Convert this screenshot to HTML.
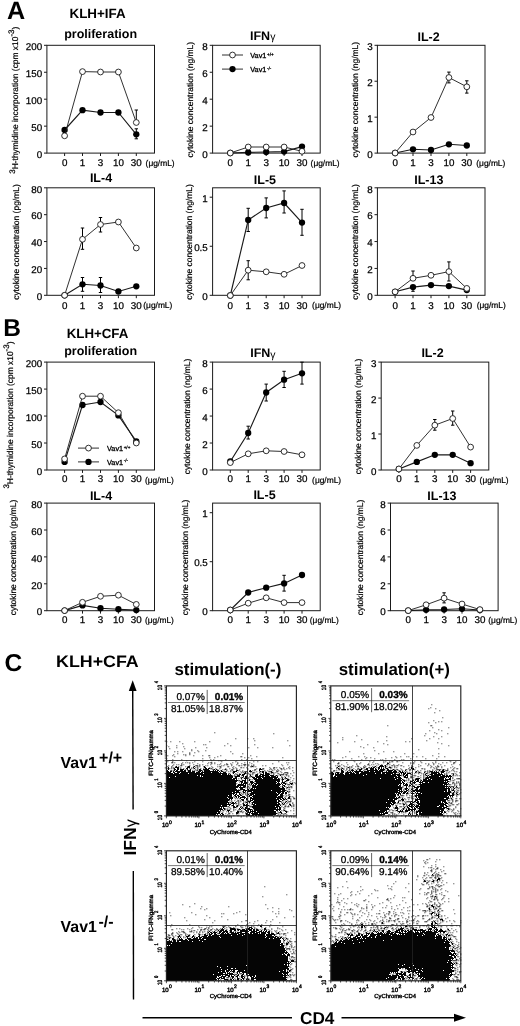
<!DOCTYPE html>
<html lang="en"><head><meta charset="utf-8"><title>Figure</title>
<style>html,body{margin:0;padding:0;background:#fff}svg{display:block}</style></head>
<body>
<svg width="520" height="1026" viewBox="0 0 520 1026" font-family="'Liberation Sans', Arial, Helvetica, sans-serif" fill="#000" text-rendering="geometricPrecision">
<rect width="520" height="1026" fill="#fff"/>
<text x="7" y="19.3" font-size="25.2" text-anchor="start" font-weight="bold" >A</text>
<text x="97.6" y="18.1" font-size="13.4" text-anchor="middle" font-weight="bold" >KLH+IFA</text>
<rect x="46.9" y="45.3" width="107.6" height="107.8" fill="none" stroke="#1a1a1a" stroke-width="1"/>
<line x1="44" y1="153.1" x2="46.9" y2="153.1" stroke="#1a1a1a" stroke-width="1" />
<text transform="translate(42.1 157.8) scale(1 1.0)" font-size="9.8" text-anchor="end" stroke="#000" stroke-width="0.25">0</text>
<line x1="44" y1="126.15" x2="46.9" y2="126.15" stroke="#1a1a1a" stroke-width="1" />
<text transform="translate(42.1 130.85) scale(1 1.0)" font-size="9.8" text-anchor="end" stroke="#000" stroke-width="0.25">50</text>
<line x1="44" y1="99.2" x2="46.9" y2="99.2" stroke="#1a1a1a" stroke-width="1" />
<text transform="translate(42.1 103.9) scale(1 1.0)" font-size="9.8" text-anchor="end" stroke="#000" stroke-width="0.25">100</text>
<line x1="44" y1="72.25" x2="46.9" y2="72.25" stroke="#1a1a1a" stroke-width="1" />
<text transform="translate(42.1 76.95) scale(1 1.0)" font-size="9.8" text-anchor="end" stroke="#000" stroke-width="0.25">150</text>
<line x1="44" y1="45.3" x2="46.9" y2="45.3" stroke="#1a1a1a" stroke-width="1" />
<text transform="translate(42.1 50) scale(1 1.0)" font-size="9.8" text-anchor="end" stroke="#000" stroke-width="0.25">200</text>
<line x1="64.6" y1="153.1" x2="64.6" y2="156" stroke="#1a1a1a" stroke-width="1" />
<text transform="translate(64.6 166.4) scale(1 1.0)" font-size="9.8" text-anchor="middle" stroke="#000" stroke-width="0.25">0</text>
<line x1="82.5" y1="153.1" x2="82.5" y2="156" stroke="#1a1a1a" stroke-width="1" />
<text transform="translate(82.5 166.4) scale(1 1.0)" font-size="9.8" text-anchor="middle" stroke="#000" stroke-width="0.25">1</text>
<line x1="100.5" y1="153.1" x2="100.5" y2="156" stroke="#1a1a1a" stroke-width="1" />
<text transform="translate(100.5 166.4) scale(1 1.0)" font-size="9.8" text-anchor="middle" stroke="#000" stroke-width="0.25">3</text>
<line x1="118.4" y1="153.1" x2="118.4" y2="156" stroke="#1a1a1a" stroke-width="1" />
<text transform="translate(118.4 166.4) scale(1 1.0)" font-size="9.8" text-anchor="middle" stroke="#000" stroke-width="0.25">10</text>
<line x1="136.3" y1="153.1" x2="136.3" y2="156" stroke="#1a1a1a" stroke-width="1" />
<text transform="translate(136.3 166.4) scale(1 1.0)" font-size="9.8" text-anchor="middle" stroke="#000" stroke-width="0.25">30</text>
<text x="145.6" y="166.1" font-size="8.4" text-anchor="start" font-weight="normal"  stroke="#000" stroke-width="0.22">(μg/mL)</text>
<text x="100.6" y="38.2" font-size="12.5" text-anchor="middle" font-weight="bold" >proliferation</text>
<text transform="translate(18.4 100.2) rotate(-90)" font-size="8.42" text-anchor="middle" stroke="#000" stroke-width="0.2"><tspan dy="-3.8" font-size="8">3</tspan><tspan dy="3.8">H-thymidine incorporation (cpm x10</tspan><tspan dy="-4.2" font-size="8">-3</tspan><tspan dy="4.2">)</tspan></text>
<line x1="136.3" y1="128.8" x2="136.3" y2="138.8" stroke="#000" stroke-width="1" />
<line x1="134.6" y1="128.8" x2="138" y2="128.8" stroke="#000" stroke-width="1" />
<line x1="134.6" y1="138.8" x2="138" y2="138.8" stroke="#000" stroke-width="1" />
<polyline fill="none" stroke="#1a1a1a" stroke-width="1.15" points="64.6,130 82.5,110.2 100.5,112.5 118.4,112.5 136.3,134.3"/>
<circle cx="64.6" cy="130" r="3.15" fill="#000"/>
<circle cx="82.5" cy="110.2" r="3.15" fill="#000"/>
<circle cx="100.5" cy="112.5" r="3.15" fill="#000"/>
<circle cx="118.4" cy="112.5" r="3.15" fill="#000"/>
<circle cx="136.3" cy="134.3" r="3.15" fill="#000"/>
<line x1="136.3" y1="110" x2="136.3" y2="122.5" stroke="#000" stroke-width="1" />
<line x1="134.6" y1="110" x2="138" y2="110" stroke="#000" stroke-width="1" />
<line x1="134.6" y1="122.5" x2="138" y2="122.5" stroke="#000" stroke-width="1" />
<polyline fill="none" stroke="#1a1a1a" stroke-width="0.9" points="64.6,135.8 82.5,71.6 100.5,72 118.4,72 136.3,122.5"/>
<circle cx="64.6" cy="135.8" r="2.9" fill="#fff" stroke="#1a1a1a" stroke-width="0.9"/>
<circle cx="82.5" cy="71.6" r="2.9" fill="#fff" stroke="#1a1a1a" stroke-width="0.9"/>
<circle cx="100.5" cy="72" r="2.9" fill="#fff" stroke="#1a1a1a" stroke-width="0.9"/>
<circle cx="118.4" cy="72" r="2.9" fill="#fff" stroke="#1a1a1a" stroke-width="0.9"/>
<circle cx="136.3" cy="122.5" r="2.9" fill="#fff" stroke="#1a1a1a" stroke-width="0.9"/>
<rect x="212.6" y="45.3" width="107.6" height="107.8" fill="none" stroke="#1a1a1a" stroke-width="1"/>
<line x1="209.7" y1="153.1" x2="212.6" y2="153.1" stroke="#1a1a1a" stroke-width="1" />
<text transform="translate(207.8 157.8) scale(1 1.0)" font-size="9.8" text-anchor="end" stroke="#000" stroke-width="0.25">0</text>
<line x1="209.7" y1="126.15" x2="212.6" y2="126.15" stroke="#1a1a1a" stroke-width="1" />
<text transform="translate(207.8 130.85) scale(1 1.0)" font-size="9.8" text-anchor="end" stroke="#000" stroke-width="0.25">2</text>
<line x1="209.7" y1="99.2" x2="212.6" y2="99.2" stroke="#1a1a1a" stroke-width="1" />
<text transform="translate(207.8 103.9) scale(1 1.0)" font-size="9.8" text-anchor="end" stroke="#000" stroke-width="0.25">4</text>
<line x1="209.7" y1="72.25" x2="212.6" y2="72.25" stroke="#1a1a1a" stroke-width="1" />
<text transform="translate(207.8 76.95) scale(1 1.0)" font-size="9.8" text-anchor="end" stroke="#000" stroke-width="0.25">6</text>
<line x1="209.7" y1="45.3" x2="212.6" y2="45.3" stroke="#1a1a1a" stroke-width="1" />
<text transform="translate(207.8 50) scale(1 1.0)" font-size="9.8" text-anchor="end" stroke="#000" stroke-width="0.25">8</text>
<line x1="230.3" y1="153.1" x2="230.3" y2="156" stroke="#1a1a1a" stroke-width="1" />
<text transform="translate(230.3 166.4) scale(1 1.0)" font-size="9.8" text-anchor="middle" stroke="#000" stroke-width="0.25">0</text>
<line x1="248.2" y1="153.1" x2="248.2" y2="156" stroke="#1a1a1a" stroke-width="1" />
<text transform="translate(248.2 166.4) scale(1 1.0)" font-size="9.8" text-anchor="middle" stroke="#000" stroke-width="0.25">1</text>
<line x1="266.2" y1="153.1" x2="266.2" y2="156" stroke="#1a1a1a" stroke-width="1" />
<text transform="translate(266.2 166.4) scale(1 1.0)" font-size="9.8" text-anchor="middle" stroke="#000" stroke-width="0.25">3</text>
<line x1="284.1" y1="153.1" x2="284.1" y2="156" stroke="#1a1a1a" stroke-width="1" />
<text transform="translate(284.1 166.4) scale(1 1.0)" font-size="9.8" text-anchor="middle" stroke="#000" stroke-width="0.25">10</text>
<line x1="302" y1="153.1" x2="302" y2="156" stroke="#1a1a1a" stroke-width="1" />
<text transform="translate(302 166.4) scale(1 1.0)" font-size="9.8" text-anchor="middle" stroke="#000" stroke-width="0.25">30</text>
<text x="310.6" y="166.1" font-size="8.4" text-anchor="start" font-weight="normal"  stroke="#000" stroke-width="0.22">(μg/mL)</text>
<text x="250" y="39.6" font-size="12.5" text-anchor="start" font-weight="bold" >IFN<tspan font-weight="normal" font-size="10.5" dy="0.8">γ</tspan></text>
<text transform="translate(193.4 99.7) rotate(-90)" font-size="8.46" text-anchor="middle" stroke="#000" stroke-width="0.2">cytokine concentration (ng/mL)</text>
<polyline fill="none" stroke="#1a1a1a" stroke-width="1.15" points="230.3,153 248.2,152.4 266.2,152 284.1,151.6 302,146.6"/>
<circle cx="230.3" cy="153" r="3.15" fill="#000"/>
<circle cx="248.2" cy="152.4" r="3.15" fill="#000"/>
<circle cx="266.2" cy="152" r="3.15" fill="#000"/>
<circle cx="284.1" cy="151.6" r="3.15" fill="#000"/>
<circle cx="302" cy="146.6" r="3.15" fill="#000"/>
<polyline fill="none" stroke="#1a1a1a" stroke-width="0.9" points="230.3,153 248.2,147 266.2,147 284.1,147 302,151.3"/>
<circle cx="230.3" cy="153" r="2.9" fill="#fff" stroke="#1a1a1a" stroke-width="0.9"/>
<circle cx="248.2" cy="147" r="2.9" fill="#fff" stroke="#1a1a1a" stroke-width="0.9"/>
<circle cx="266.2" cy="147" r="2.9" fill="#fff" stroke="#1a1a1a" stroke-width="0.9"/>
<circle cx="284.1" cy="147" r="2.9" fill="#fff" stroke="#1a1a1a" stroke-width="0.9"/>
<circle cx="302" cy="151.3" r="2.9" fill="#fff" stroke="#1a1a1a" stroke-width="0.9"/>
<line x1="222" y1="55" x2="243" y2="55" stroke="#1a1a1a" stroke-width="0.9" />
<circle cx="232.5" cy="55" r="2.9" fill="#fff" stroke="#1a1a1a" stroke-width="0.9"/>
<text x="250.3" y="57.9" font-size="7.3" stroke="#000" stroke-width="0.3">Vav1<tspan dx="0.6" dy="-2.4" font-size="4.6">+/+</tspan></text>
<line x1="222" y1="69.1" x2="243" y2="69.1" stroke="#1a1a1a" stroke-width="0.9" />
<circle cx="232.5" cy="69.1" r="3.15" fill="#000"/>
<text x="250.3" y="72" font-size="7.3" stroke="#000" stroke-width="0.3">Vav1<tspan dx="0.6" dy="-2.4" font-size="4.6">-/-</tspan></text>
<rect x="377.4" y="45.3" width="107.6" height="107.8" fill="none" stroke="#1a1a1a" stroke-width="1"/>
<line x1="374.5" y1="153.1" x2="377.4" y2="153.1" stroke="#1a1a1a" stroke-width="1" />
<text transform="translate(372.6 157.8) scale(1 1.0)" font-size="9.8" text-anchor="end" stroke="#000" stroke-width="0.25">0</text>
<line x1="374.5" y1="117.17" x2="377.4" y2="117.17" stroke="#1a1a1a" stroke-width="1" />
<text transform="translate(372.6 121.87) scale(1 1.0)" font-size="9.8" text-anchor="end" stroke="#000" stroke-width="0.25">1</text>
<line x1="374.5" y1="81.23" x2="377.4" y2="81.23" stroke="#1a1a1a" stroke-width="1" />
<text transform="translate(372.6 85.93) scale(1 1.0)" font-size="9.8" text-anchor="end" stroke="#000" stroke-width="0.25">2</text>
<line x1="374.5" y1="45.3" x2="377.4" y2="45.3" stroke="#1a1a1a" stroke-width="1" />
<text transform="translate(372.6 50) scale(1 1.0)" font-size="9.8" text-anchor="end" stroke="#000" stroke-width="0.25">3</text>
<line x1="395.1" y1="153.1" x2="395.1" y2="156" stroke="#1a1a1a" stroke-width="1" />
<text transform="translate(395.1 166.4) scale(1 1.0)" font-size="9.8" text-anchor="middle" stroke="#000" stroke-width="0.25">0</text>
<line x1="413" y1="153.1" x2="413" y2="156" stroke="#1a1a1a" stroke-width="1" />
<text transform="translate(413 166.4) scale(1 1.0)" font-size="9.8" text-anchor="middle" stroke="#000" stroke-width="0.25">1</text>
<line x1="431" y1="153.1" x2="431" y2="156" stroke="#1a1a1a" stroke-width="1" />
<text transform="translate(431 166.4) scale(1 1.0)" font-size="9.8" text-anchor="middle" stroke="#000" stroke-width="0.25">3</text>
<line x1="448.9" y1="153.1" x2="448.9" y2="156" stroke="#1a1a1a" stroke-width="1" />
<text transform="translate(448.9 166.4) scale(1 1.0)" font-size="9.8" text-anchor="middle" stroke="#000" stroke-width="0.25">10</text>
<line x1="466.8" y1="153.1" x2="466.8" y2="156" stroke="#1a1a1a" stroke-width="1" />
<text transform="translate(466.8 166.4) scale(1 1.0)" font-size="9.8" text-anchor="middle" stroke="#000" stroke-width="0.25">30</text>
<text x="476.3" y="166.1" font-size="8.4" text-anchor="start" font-weight="normal"  stroke="#000" stroke-width="0.22">(μg/mL)</text>
<text x="428.6" y="41.3" font-size="12.5" text-anchor="middle" font-weight="bold" >IL-2</text>
<text transform="translate(357.8 99.7) rotate(-90)" font-size="8.46" text-anchor="middle" stroke="#000" stroke-width="0.2">cytokine concentration (ng/mL)</text>
<polyline fill="none" stroke="#1a1a1a" stroke-width="1.15" points="395.1,153 413,149.3 431,150 448.9,144.3 466.8,145.5"/>
<circle cx="395.1" cy="153" r="3.15" fill="#000"/>
<circle cx="413" cy="149.3" r="3.15" fill="#000"/>
<circle cx="431" cy="150" r="3.15" fill="#000"/>
<circle cx="448.9" cy="144.3" r="3.15" fill="#000"/>
<circle cx="466.8" cy="145.5" r="3.15" fill="#000"/>
<line x1="448.9" y1="72.1" x2="448.9" y2="82.9" stroke="#000" stroke-width="1" />
<line x1="447.2" y1="72.1" x2="450.6" y2="72.1" stroke="#000" stroke-width="1" />
<line x1="447.2" y1="82.9" x2="450.6" y2="82.9" stroke="#000" stroke-width="1" />
<line x1="466.8" y1="80.8" x2="466.8" y2="93.1" stroke="#000" stroke-width="1" />
<line x1="465.1" y1="80.8" x2="468.5" y2="80.8" stroke="#000" stroke-width="1" />
<line x1="465.1" y1="93.1" x2="468.5" y2="93.1" stroke="#000" stroke-width="1" />
<polyline fill="none" stroke="#1a1a1a" stroke-width="0.9" points="395.1,153 413,132 431,117.5 448.9,77.5 466.8,86.8"/>
<circle cx="395.1" cy="153" r="2.9" fill="#fff" stroke="#1a1a1a" stroke-width="0.9"/>
<circle cx="413" cy="132" r="2.9" fill="#fff" stroke="#1a1a1a" stroke-width="0.9"/>
<circle cx="431" cy="117.5" r="2.9" fill="#fff" stroke="#1a1a1a" stroke-width="0.9"/>
<circle cx="448.9" cy="77.5" r="2.9" fill="#fff" stroke="#1a1a1a" stroke-width="0.9"/>
<circle cx="466.8" cy="86.8" r="2.9" fill="#fff" stroke="#1a1a1a" stroke-width="0.9"/>
<rect x="46.9" y="187.8" width="107.6" height="107.5" fill="none" stroke="#1a1a1a" stroke-width="1"/>
<line x1="44" y1="295.3" x2="46.9" y2="295.3" stroke="#1a1a1a" stroke-width="1" />
<text transform="translate(42.1 300) scale(1 1.0)" font-size="9.8" text-anchor="end" stroke="#000" stroke-width="0.25">0</text>
<line x1="44" y1="268.43" x2="46.9" y2="268.43" stroke="#1a1a1a" stroke-width="1" />
<text transform="translate(42.1 273.12) scale(1 1.0)" font-size="9.8" text-anchor="end" stroke="#000" stroke-width="0.25">20</text>
<line x1="44" y1="241.55" x2="46.9" y2="241.55" stroke="#1a1a1a" stroke-width="1" />
<text transform="translate(42.1 246.25) scale(1 1.0)" font-size="9.8" text-anchor="end" stroke="#000" stroke-width="0.25">40</text>
<line x1="44" y1="214.68" x2="46.9" y2="214.68" stroke="#1a1a1a" stroke-width="1" />
<text transform="translate(42.1 219.38) scale(1 1.0)" font-size="9.8" text-anchor="end" stroke="#000" stroke-width="0.25">60</text>
<line x1="44" y1="187.8" x2="46.9" y2="187.8" stroke="#1a1a1a" stroke-width="1" />
<text transform="translate(42.1 192.5) scale(1 1.0)" font-size="9.8" text-anchor="end" stroke="#000" stroke-width="0.25">80</text>
<line x1="64.6" y1="295.3" x2="64.6" y2="298.2" stroke="#1a1a1a" stroke-width="1" />
<text transform="translate(64.6 308.6) scale(1 1.0)" font-size="9.8" text-anchor="middle" stroke="#000" stroke-width="0.25">0</text>
<line x1="82.5" y1="295.3" x2="82.5" y2="298.2" stroke="#1a1a1a" stroke-width="1" />
<text transform="translate(82.5 308.6) scale(1 1.0)" font-size="9.8" text-anchor="middle" stroke="#000" stroke-width="0.25">1</text>
<line x1="100.5" y1="295.3" x2="100.5" y2="298.2" stroke="#1a1a1a" stroke-width="1" />
<text transform="translate(100.5 308.6) scale(1 1.0)" font-size="9.8" text-anchor="middle" stroke="#000" stroke-width="0.25">3</text>
<line x1="118.4" y1="295.3" x2="118.4" y2="298.2" stroke="#1a1a1a" stroke-width="1" />
<text transform="translate(118.4 308.6) scale(1 1.0)" font-size="9.8" text-anchor="middle" stroke="#000" stroke-width="0.25">10</text>
<line x1="136.3" y1="295.3" x2="136.3" y2="298.2" stroke="#1a1a1a" stroke-width="1" />
<text transform="translate(136.3 308.6) scale(1 1.0)" font-size="9.8" text-anchor="middle" stroke="#000" stroke-width="0.25">30</text>
<text x="143.3" y="308.3" font-size="8.4" text-anchor="start" font-weight="normal"  stroke="#000" stroke-width="0.22">(μg/mL)</text>
<text x="101" y="182.1" font-size="12.5" text-anchor="middle" font-weight="bold" >IL-4</text>
<text transform="translate(18.7 242.05) rotate(-90)" font-size="8.46" text-anchor="middle" stroke="#000" stroke-width="0.2">cytokine concentration (pg/mL)</text>
<line x1="82.5" y1="277.5" x2="82.5" y2="291.3" stroke="#000" stroke-width="1" />
<line x1="80.8" y1="277.5" x2="84.2" y2="277.5" stroke="#000" stroke-width="1" />
<line x1="80.8" y1="291.3" x2="84.2" y2="291.3" stroke="#000" stroke-width="1" />
<line x1="100.5" y1="277.5" x2="100.5" y2="292.5" stroke="#000" stroke-width="1" />
<line x1="98.8" y1="277.5" x2="102.2" y2="277.5" stroke="#000" stroke-width="1" />
<line x1="98.8" y1="292.5" x2="102.2" y2="292.5" stroke="#000" stroke-width="1" />
<polyline fill="none" stroke="#1a1a1a" stroke-width="1.15" points="64.6,295.3 82.5,284.3 100.5,285.5 118.4,291.5 136.3,286.3"/>
<circle cx="64.6" cy="295.3" r="3.15" fill="#000"/>
<circle cx="82.5" cy="284.3" r="3.15" fill="#000"/>
<circle cx="100.5" cy="285.5" r="3.15" fill="#000"/>
<circle cx="118.4" cy="291.5" r="3.15" fill="#000"/>
<circle cx="136.3" cy="286.3" r="3.15" fill="#000"/>
<line x1="82.5" y1="228" x2="82.5" y2="249.3" stroke="#000" stroke-width="1" />
<line x1="80.8" y1="228" x2="84.2" y2="228" stroke="#000" stroke-width="1" />
<line x1="80.8" y1="249.3" x2="84.2" y2="249.3" stroke="#000" stroke-width="1" />
<line x1="100.5" y1="217.5" x2="100.5" y2="232" stroke="#000" stroke-width="1" />
<line x1="98.8" y1="217.5" x2="102.2" y2="217.5" stroke="#000" stroke-width="1" />
<line x1="98.8" y1="232" x2="102.2" y2="232" stroke="#000" stroke-width="1" />
<polyline fill="none" stroke="#1a1a1a" stroke-width="0.9" points="64.6,295.3 82.5,239.3 100.5,224.5 118.4,222 136.3,248"/>
<circle cx="64.6" cy="295.3" r="2.9" fill="#fff" stroke="#1a1a1a" stroke-width="0.9"/>
<circle cx="82.5" cy="239.3" r="2.9" fill="#fff" stroke="#1a1a1a" stroke-width="0.9"/>
<circle cx="100.5" cy="224.5" r="2.9" fill="#fff" stroke="#1a1a1a" stroke-width="0.9"/>
<circle cx="118.4" cy="222" r="2.9" fill="#fff" stroke="#1a1a1a" stroke-width="0.9"/>
<circle cx="136.3" cy="248" r="2.9" fill="#fff" stroke="#1a1a1a" stroke-width="0.9"/>
<rect x="212.6" y="187.8" width="107.6" height="107.5" fill="none" stroke="#1a1a1a" stroke-width="1"/>
<line x1="209.7" y1="295.3" x2="212.6" y2="295.3" stroke="#1a1a1a" stroke-width="1" />
<text transform="translate(207.8 300) scale(1 1.0)" font-size="9.8" text-anchor="end" stroke="#000" stroke-width="0.25">0</text>
<line x1="209.7" y1="246.25" x2="212.6" y2="246.25" stroke="#1a1a1a" stroke-width="1" />
<text transform="translate(207.8 250.95) scale(1 1.0)" font-size="9.8" text-anchor="end" stroke="#000" stroke-width="0.25">0.5</text>
<line x1="209.7" y1="197.2" x2="212.6" y2="197.2" stroke="#1a1a1a" stroke-width="1" />
<text transform="translate(207.8 201.9) scale(1 1.0)" font-size="9.8" text-anchor="end" stroke="#000" stroke-width="0.25">1</text>
<line x1="230.3" y1="295.3" x2="230.3" y2="298.2" stroke="#1a1a1a" stroke-width="1" />
<text transform="translate(230.3 308.6) scale(1 1.0)" font-size="9.8" text-anchor="middle" stroke="#000" stroke-width="0.25">0</text>
<line x1="248.2" y1="295.3" x2="248.2" y2="298.2" stroke="#1a1a1a" stroke-width="1" />
<text transform="translate(248.2 308.6) scale(1 1.0)" font-size="9.8" text-anchor="middle" stroke="#000" stroke-width="0.25">1</text>
<line x1="266.2" y1="295.3" x2="266.2" y2="298.2" stroke="#1a1a1a" stroke-width="1" />
<text transform="translate(266.2 308.6) scale(1 1.0)" font-size="9.8" text-anchor="middle" stroke="#000" stroke-width="0.25">3</text>
<line x1="284.1" y1="295.3" x2="284.1" y2="298.2" stroke="#1a1a1a" stroke-width="1" />
<text transform="translate(284.1 308.6) scale(1 1.0)" font-size="9.8" text-anchor="middle" stroke="#000" stroke-width="0.25">10</text>
<line x1="302" y1="295.3" x2="302" y2="298.2" stroke="#1a1a1a" stroke-width="1" />
<text transform="translate(302 308.6) scale(1 1.0)" font-size="9.8" text-anchor="middle" stroke="#000" stroke-width="0.25">30</text>
<text x="312.1" y="308.3" font-size="8.4" text-anchor="start" font-weight="normal"  stroke="#000" stroke-width="0.22">(μg/mL)</text>
<text x="264.9" y="183.7" font-size="12.5" text-anchor="middle" font-weight="bold" >IL-5</text>
<text transform="translate(191.5 242.05) rotate(-90)" font-size="8.46" text-anchor="middle" stroke="#000" stroke-width="0.2">cytokine concentration (ng/mL)</text>
<line x1="248.2" y1="208.3" x2="248.2" y2="231.5" stroke="#000" stroke-width="1" />
<line x1="246.5" y1="208.3" x2="249.9" y2="208.3" stroke="#000" stroke-width="1" />
<line x1="246.5" y1="231.5" x2="249.9" y2="231.5" stroke="#000" stroke-width="1" />
<line x1="266.2" y1="197.9" x2="266.2" y2="217.9" stroke="#000" stroke-width="1" />
<line x1="264.5" y1="197.9" x2="267.9" y2="197.9" stroke="#000" stroke-width="1" />
<line x1="264.5" y1="217.9" x2="267.9" y2="217.9" stroke="#000" stroke-width="1" />
<line x1="284.1" y1="190.9" x2="284.1" y2="213" stroke="#000" stroke-width="1" />
<line x1="282.4" y1="190.9" x2="285.8" y2="190.9" stroke="#000" stroke-width="1" />
<line x1="282.4" y1="213" x2="285.8" y2="213" stroke="#000" stroke-width="1" />
<line x1="302" y1="209.3" x2="302" y2="235.3" stroke="#000" stroke-width="1" />
<line x1="300.3" y1="209.3" x2="303.7" y2="209.3" stroke="#000" stroke-width="1" />
<line x1="300.3" y1="235.3" x2="303.7" y2="235.3" stroke="#000" stroke-width="1" />
<polyline fill="none" stroke="#1a1a1a" stroke-width="1.15" points="230.3,295.5 248.2,220 266.2,208 284.1,203 302,222.6"/>
<circle cx="230.3" cy="295.5" r="3.15" fill="#000"/>
<circle cx="248.2" cy="220" r="3.15" fill="#000"/>
<circle cx="266.2" cy="208" r="3.15" fill="#000"/>
<circle cx="284.1" cy="203" r="3.15" fill="#000"/>
<circle cx="302" cy="222.6" r="3.15" fill="#000"/>
<line x1="248.2" y1="260.7" x2="248.2" y2="279.8" stroke="#000" stroke-width="1" />
<line x1="246.5" y1="260.7" x2="249.9" y2="260.7" stroke="#000" stroke-width="1" />
<line x1="246.5" y1="279.8" x2="249.9" y2="279.8" stroke="#000" stroke-width="1" />
<polyline fill="none" stroke="#1a1a1a" stroke-width="0.9" points="230.3,295.5 248.2,270.2 266.2,271.8 284.1,274.3 302,265.5"/>
<circle cx="230.3" cy="295.5" r="2.9" fill="#fff" stroke="#1a1a1a" stroke-width="0.9"/>
<circle cx="248.2" cy="270.2" r="2.9" fill="#fff" stroke="#1a1a1a" stroke-width="0.9"/>
<circle cx="266.2" cy="271.8" r="2.9" fill="#fff" stroke="#1a1a1a" stroke-width="0.9"/>
<circle cx="284.1" cy="274.3" r="2.9" fill="#fff" stroke="#1a1a1a" stroke-width="0.9"/>
<circle cx="302" cy="265.5" r="2.9" fill="#fff" stroke="#1a1a1a" stroke-width="0.9"/>
<rect x="377.4" y="187.8" width="107.6" height="107.5" fill="none" stroke="#1a1a1a" stroke-width="1"/>
<line x1="374.5" y1="295.3" x2="377.4" y2="295.3" stroke="#1a1a1a" stroke-width="1" />
<text transform="translate(372.6 300) scale(1 1.0)" font-size="9.8" text-anchor="end" stroke="#000" stroke-width="0.25">0</text>
<line x1="374.5" y1="268.43" x2="377.4" y2="268.43" stroke="#1a1a1a" stroke-width="1" />
<text transform="translate(372.6 273.12) scale(1 1.0)" font-size="9.8" text-anchor="end" stroke="#000" stroke-width="0.25">2</text>
<line x1="374.5" y1="241.55" x2="377.4" y2="241.55" stroke="#1a1a1a" stroke-width="1" />
<text transform="translate(372.6 246.25) scale(1 1.0)" font-size="9.8" text-anchor="end" stroke="#000" stroke-width="0.25">4</text>
<line x1="374.5" y1="214.68" x2="377.4" y2="214.68" stroke="#1a1a1a" stroke-width="1" />
<text transform="translate(372.6 219.38) scale(1 1.0)" font-size="9.8" text-anchor="end" stroke="#000" stroke-width="0.25">6</text>
<line x1="374.5" y1="187.8" x2="377.4" y2="187.8" stroke="#1a1a1a" stroke-width="1" />
<text transform="translate(372.6 192.5) scale(1 1.0)" font-size="9.8" text-anchor="end" stroke="#000" stroke-width="0.25">8</text>
<line x1="395.1" y1="295.3" x2="395.1" y2="298.2" stroke="#1a1a1a" stroke-width="1" />
<text transform="translate(395.1 308.6) scale(1 1.0)" font-size="9.8" text-anchor="middle" stroke="#000" stroke-width="0.25">0</text>
<line x1="413" y1="295.3" x2="413" y2="298.2" stroke="#1a1a1a" stroke-width="1" />
<text transform="translate(413 308.6) scale(1 1.0)" font-size="9.8" text-anchor="middle" stroke="#000" stroke-width="0.25">1</text>
<line x1="431" y1="295.3" x2="431" y2="298.2" stroke="#1a1a1a" stroke-width="1" />
<text transform="translate(431 308.6) scale(1 1.0)" font-size="9.8" text-anchor="middle" stroke="#000" stroke-width="0.25">3</text>
<line x1="448.9" y1="295.3" x2="448.9" y2="298.2" stroke="#1a1a1a" stroke-width="1" />
<text transform="translate(448.9 308.6) scale(1 1.0)" font-size="9.8" text-anchor="middle" stroke="#000" stroke-width="0.25">10</text>
<line x1="466.8" y1="295.3" x2="466.8" y2="298.2" stroke="#1a1a1a" stroke-width="1" />
<text transform="translate(466.8 308.6) scale(1 1.0)" font-size="9.8" text-anchor="middle" stroke="#000" stroke-width="0.25">30</text>
<text x="476.7" y="308.3" font-size="8.4" text-anchor="start" font-weight="normal"  stroke="#000" stroke-width="0.22">(μg/mL)</text>
<text x="428.85" y="184" font-size="12.5" text-anchor="middle" font-weight="bold" >IL-13</text>
<text transform="translate(357.9 242.05) rotate(-90)" font-size="8.46" text-anchor="middle" stroke="#000" stroke-width="0.2">cytokine concentration (ng/mL)</text>
<line x1="413" y1="287.1" x2="413" y2="291.3" stroke="#000" stroke-width="1" />
<line x1="411.3" y1="287.1" x2="414.7" y2="287.1" stroke="#000" stroke-width="1" />
<line x1="411.3" y1="291.3" x2="414.7" y2="291.3" stroke="#000" stroke-width="1" />
<polyline fill="none" stroke="#1a1a1a" stroke-width="1.15" points="395.1,291.8 413,287.1 431,285.1 448.9,286.1 466.8,290.1"/>
<circle cx="395.1" cy="291.8" r="3.15" fill="#000"/>
<circle cx="413" cy="287.1" r="3.15" fill="#000"/>
<circle cx="431" cy="285.1" r="3.15" fill="#000"/>
<circle cx="448.9" cy="286.1" r="3.15" fill="#000"/>
<circle cx="466.8" cy="290.1" r="3.15" fill="#000"/>
<line x1="413" y1="271" x2="413" y2="278.3" stroke="#000" stroke-width="1" />
<line x1="411.3" y1="271" x2="414.7" y2="271" stroke="#000" stroke-width="1" />
<line x1="411.3" y1="278.3" x2="414.7" y2="278.3" stroke="#000" stroke-width="1" />
<line x1="448.9" y1="261.9" x2="448.9" y2="281" stroke="#000" stroke-width="1" />
<line x1="447.2" y1="261.9" x2="450.6" y2="261.9" stroke="#000" stroke-width="1" />
<line x1="447.2" y1="281" x2="450.6" y2="281" stroke="#000" stroke-width="1" />
<polyline fill="none" stroke="#1a1a1a" stroke-width="0.9" points="395.1,291.8 413,278.3 431,275.3 448.9,271.6 466.8,288.4"/>
<circle cx="395.1" cy="291.8" r="2.9" fill="#fff" stroke="#1a1a1a" stroke-width="0.9"/>
<circle cx="413" cy="278.3" r="2.9" fill="#fff" stroke="#1a1a1a" stroke-width="0.9"/>
<circle cx="431" cy="275.3" r="2.9" fill="#fff" stroke="#1a1a1a" stroke-width="0.9"/>
<circle cx="448.9" cy="271.6" r="2.9" fill="#fff" stroke="#1a1a1a" stroke-width="0.9"/>
<circle cx="466.8" cy="288.4" r="2.9" fill="#fff" stroke="#1a1a1a" stroke-width="0.9"/>
<text x="3.3" y="335.6" font-size="24.5" text-anchor="start" font-weight="bold" >B</text>
<text x="97.5" y="338" font-size="13.3" text-anchor="middle" font-weight="bold" >KLH+CFA</text>
<rect x="46.9" y="362.1" width="107.6" height="107.9" fill="none" stroke="#1a1a1a" stroke-width="1"/>
<line x1="44" y1="470" x2="46.9" y2="470" stroke="#1a1a1a" stroke-width="1" />
<text transform="translate(42.1 474.7) scale(1 1.0)" font-size="9.8" text-anchor="end" stroke="#000" stroke-width="0.25">0</text>
<line x1="44" y1="443.02" x2="46.9" y2="443.02" stroke="#1a1a1a" stroke-width="1" />
<text transform="translate(42.1 447.72) scale(1 1.0)" font-size="9.8" text-anchor="end" stroke="#000" stroke-width="0.25">50</text>
<line x1="44" y1="416.05" x2="46.9" y2="416.05" stroke="#1a1a1a" stroke-width="1" />
<text transform="translate(42.1 420.75) scale(1 1.0)" font-size="9.8" text-anchor="end" stroke="#000" stroke-width="0.25">100</text>
<line x1="44" y1="389.08" x2="46.9" y2="389.08" stroke="#1a1a1a" stroke-width="1" />
<text transform="translate(42.1 393.78) scale(1 1.0)" font-size="9.8" text-anchor="end" stroke="#000" stroke-width="0.25">150</text>
<line x1="44" y1="362.1" x2="46.9" y2="362.1" stroke="#1a1a1a" stroke-width="1" />
<text transform="translate(42.1 366.8) scale(1 1.0)" font-size="9.8" text-anchor="end" stroke="#000" stroke-width="0.25">200</text>
<line x1="64.6" y1="470" x2="64.6" y2="472.9" stroke="#1a1a1a" stroke-width="1" />
<text transform="translate(64.6 482.3) scale(1 1.0)" font-size="9.8" text-anchor="middle" stroke="#000" stroke-width="0.25">0</text>
<line x1="82.5" y1="470" x2="82.5" y2="472.9" stroke="#1a1a1a" stroke-width="1" />
<text transform="translate(82.5 482.3) scale(1 1.0)" font-size="9.8" text-anchor="middle" stroke="#000" stroke-width="0.25">1</text>
<line x1="100.5" y1="470" x2="100.5" y2="472.9" stroke="#1a1a1a" stroke-width="1" />
<text transform="translate(100.5 482.3) scale(1 1.0)" font-size="9.8" text-anchor="middle" stroke="#000" stroke-width="0.25">3</text>
<line x1="118.4" y1="470" x2="118.4" y2="472.9" stroke="#1a1a1a" stroke-width="1" />
<text transform="translate(118.4 482.3) scale(1 1.0)" font-size="9.8" text-anchor="middle" stroke="#000" stroke-width="0.25">10</text>
<line x1="136.3" y1="470" x2="136.3" y2="472.9" stroke="#1a1a1a" stroke-width="1" />
<text transform="translate(136.3 482.3) scale(1 1.0)" font-size="9.8" text-anchor="middle" stroke="#000" stroke-width="0.25">30</text>
<text x="144.9" y="482.5" font-size="8.4" text-anchor="start" font-weight="normal"  stroke="#000" stroke-width="0.22">(μg/mL)</text>
<text x="100.6" y="355.2" font-size="12.5" text-anchor="middle" font-weight="bold" >proliferation</text>
<text transform="translate(13.2 415.05) rotate(-90)" font-size="8.42" text-anchor="middle" stroke="#000" stroke-width="0.2"><tspan dy="-3.8" font-size="8">3</tspan><tspan dy="3.8">H-thymidine incorporation (cpm x10</tspan><tspan dy="-4.2" font-size="8">-3</tspan><tspan dy="4.2">)</tspan></text>
<polyline fill="none" stroke="#1a1a1a" stroke-width="1.15" points="64.6,461.9 82.5,405 100.5,402 118.4,415.4 136.3,441.4"/>
<circle cx="64.6" cy="461.9" r="3.15" fill="#000"/>
<circle cx="82.5" cy="405" r="3.15" fill="#000"/>
<circle cx="100.5" cy="402" r="3.15" fill="#000"/>
<circle cx="118.4" cy="415.4" r="3.15" fill="#000"/>
<circle cx="136.3" cy="441.4" r="3.15" fill="#000"/>
<polyline fill="none" stroke="#1a1a1a" stroke-width="0.9" points="64.6,458.9 82.5,396.2 100.5,396.2 118.4,412.7 136.3,443"/>
<circle cx="64.6" cy="458.9" r="2.9" fill="#fff" stroke="#1a1a1a" stroke-width="0.9"/>
<circle cx="82.5" cy="396.2" r="2.9" fill="#fff" stroke="#1a1a1a" stroke-width="0.9"/>
<circle cx="100.5" cy="396.2" r="2.9" fill="#fff" stroke="#1a1a1a" stroke-width="0.9"/>
<circle cx="118.4" cy="412.7" r="2.9" fill="#fff" stroke="#1a1a1a" stroke-width="0.9"/>
<circle cx="136.3" cy="443" r="2.9" fill="#fff" stroke="#1a1a1a" stroke-width="0.9"/>
<line x1="78" y1="448.1" x2="99" y2="448.1" stroke="#1a1a1a" stroke-width="0.9" />
<circle cx="88.5" cy="448.1" r="2.9" fill="#fff" stroke="#1a1a1a" stroke-width="0.9"/>
<text x="107" y="451" font-size="7.3" stroke="#000" stroke-width="0.3">Vav1<tspan dx="0.6" dy="-2.4" font-size="4.6">+/+</tspan></text>
<line x1="78" y1="461.9" x2="99" y2="461.9" stroke="#1a1a1a" stroke-width="0.9" />
<circle cx="88.5" cy="461.9" r="3.15" fill="#000"/>
<text x="107" y="464.8" font-size="7.3" stroke="#000" stroke-width="0.3">Vav1<tspan dx="0.6" dy="-2.4" font-size="4.6">-/-</tspan></text>
<rect x="212.6" y="362.1" width="107.6" height="107.9" fill="none" stroke="#1a1a1a" stroke-width="1"/>
<line x1="209.7" y1="470" x2="212.6" y2="470" stroke="#1a1a1a" stroke-width="1" />
<text transform="translate(207.8 474.7) scale(1 1.0)" font-size="9.8" text-anchor="end" stroke="#000" stroke-width="0.25">0</text>
<line x1="209.7" y1="443.02" x2="212.6" y2="443.02" stroke="#1a1a1a" stroke-width="1" />
<text transform="translate(207.8 447.72) scale(1 1.0)" font-size="9.8" text-anchor="end" stroke="#000" stroke-width="0.25">2</text>
<line x1="209.7" y1="416.05" x2="212.6" y2="416.05" stroke="#1a1a1a" stroke-width="1" />
<text transform="translate(207.8 420.75) scale(1 1.0)" font-size="9.8" text-anchor="end" stroke="#000" stroke-width="0.25">4</text>
<line x1="209.7" y1="389.08" x2="212.6" y2="389.08" stroke="#1a1a1a" stroke-width="1" />
<text transform="translate(207.8 393.78) scale(1 1.0)" font-size="9.8" text-anchor="end" stroke="#000" stroke-width="0.25">6</text>
<line x1="209.7" y1="362.1" x2="212.6" y2="362.1" stroke="#1a1a1a" stroke-width="1" />
<text transform="translate(207.8 366.8) scale(1 1.0)" font-size="9.8" text-anchor="end" stroke="#000" stroke-width="0.25">8</text>
<line x1="230.3" y1="470" x2="230.3" y2="472.9" stroke="#1a1a1a" stroke-width="1" />
<text transform="translate(230.3 482.3) scale(1 1.0)" font-size="9.8" text-anchor="middle" stroke="#000" stroke-width="0.25">0</text>
<line x1="248.2" y1="470" x2="248.2" y2="472.9" stroke="#1a1a1a" stroke-width="1" />
<text transform="translate(248.2 482.3) scale(1 1.0)" font-size="9.8" text-anchor="middle" stroke="#000" stroke-width="0.25">1</text>
<line x1="266.2" y1="470" x2="266.2" y2="472.9" stroke="#1a1a1a" stroke-width="1" />
<text transform="translate(266.2 482.3) scale(1 1.0)" font-size="9.8" text-anchor="middle" stroke="#000" stroke-width="0.25">3</text>
<line x1="284.1" y1="470" x2="284.1" y2="472.9" stroke="#1a1a1a" stroke-width="1" />
<text transform="translate(284.1 482.3) scale(1 1.0)" font-size="9.8" text-anchor="middle" stroke="#000" stroke-width="0.25">10</text>
<line x1="302" y1="470" x2="302" y2="472.9" stroke="#1a1a1a" stroke-width="1" />
<text transform="translate(302 482.3) scale(1 1.0)" font-size="9.8" text-anchor="middle" stroke="#000" stroke-width="0.25">30</text>
<text x="312.1" y="482.5" font-size="8.4" text-anchor="start" font-weight="normal"  stroke="#000" stroke-width="0.22">(μg/mL)</text>
<text x="250.2" y="356.7" font-size="12.5" text-anchor="start" font-weight="bold" >IFN<tspan font-weight="normal" font-size="10.5" dy="0.8">γ</tspan></text>
<text transform="translate(190 416.55) rotate(-90)" font-size="8.46" text-anchor="middle" stroke="#000" stroke-width="0.2">cytokine concentration (ng/mL)</text>
<line x1="248.2" y1="426.2" x2="248.2" y2="439" stroke="#000" stroke-width="1" />
<line x1="246.5" y1="426.2" x2="249.9" y2="426.2" stroke="#000" stroke-width="1" />
<line x1="246.5" y1="439" x2="249.9" y2="439" stroke="#000" stroke-width="1" />
<line x1="266.2" y1="384.1" x2="266.2" y2="401" stroke="#000" stroke-width="1" />
<line x1="264.5" y1="384.1" x2="267.9" y2="384.1" stroke="#000" stroke-width="1" />
<line x1="264.5" y1="401" x2="267.9" y2="401" stroke="#000" stroke-width="1" />
<line x1="284.1" y1="371.3" x2="284.1" y2="387.5" stroke="#000" stroke-width="1" />
<line x1="282.4" y1="371.3" x2="285.8" y2="371.3" stroke="#000" stroke-width="1" />
<line x1="282.4" y1="387.5" x2="285.8" y2="387.5" stroke="#000" stroke-width="1" />
<line x1="302" y1="362.2" x2="302" y2="384.1" stroke="#000" stroke-width="1" />
<line x1="300.3" y1="362.2" x2="303.7" y2="362.2" stroke="#000" stroke-width="1" />
<line x1="300.3" y1="384.1" x2="303.7" y2="384.1" stroke="#000" stroke-width="1" />
<polyline fill="none" stroke="#1a1a1a" stroke-width="1.15" points="230.3,461.5 248.2,433 266.2,392.5 284.1,379.7 302,373.3"/>
<circle cx="230.3" cy="461.5" r="3.15" fill="#000"/>
<circle cx="248.2" cy="433" r="3.15" fill="#000"/>
<circle cx="266.2" cy="392.5" r="3.15" fill="#000"/>
<circle cx="284.1" cy="379.7" r="3.15" fill="#000"/>
<circle cx="302" cy="373.3" r="3.15" fill="#000"/>
<polyline fill="none" stroke="#1a1a1a" stroke-width="0.9" points="230.3,462.6 248.2,453.8 266.2,450.8 284.1,451.5 302,454.8"/>
<circle cx="230.3" cy="462.6" r="2.9" fill="#fff" stroke="#1a1a1a" stroke-width="0.9"/>
<circle cx="248.2" cy="453.8" r="2.9" fill="#fff" stroke="#1a1a1a" stroke-width="0.9"/>
<circle cx="266.2" cy="450.8" r="2.9" fill="#fff" stroke="#1a1a1a" stroke-width="0.9"/>
<circle cx="284.1" cy="451.5" r="2.9" fill="#fff" stroke="#1a1a1a" stroke-width="0.9"/>
<circle cx="302" cy="454.8" r="2.9" fill="#fff" stroke="#1a1a1a" stroke-width="0.9"/>
<rect x="381.2" y="362.1" width="107.6" height="107.9" fill="none" stroke="#1a1a1a" stroke-width="1"/>
<line x1="378.3" y1="470" x2="381.2" y2="470" stroke="#1a1a1a" stroke-width="1" />
<text transform="translate(376.4 474.7) scale(1 1.0)" font-size="9.8" text-anchor="end" stroke="#000" stroke-width="0.25">0</text>
<line x1="378.3" y1="434.03" x2="381.2" y2="434.03" stroke="#1a1a1a" stroke-width="1" />
<text transform="translate(376.4 438.73) scale(1 1.0)" font-size="9.8" text-anchor="end" stroke="#000" stroke-width="0.25">1</text>
<line x1="378.3" y1="398.07" x2="381.2" y2="398.07" stroke="#1a1a1a" stroke-width="1" />
<text transform="translate(376.4 402.77) scale(1 1.0)" font-size="9.8" text-anchor="end" stroke="#000" stroke-width="0.25">2</text>
<line x1="378.3" y1="362.1" x2="381.2" y2="362.1" stroke="#1a1a1a" stroke-width="1" />
<text transform="translate(376.4 366.8) scale(1 1.0)" font-size="9.8" text-anchor="end" stroke="#000" stroke-width="0.25">3</text>
<line x1="398.9" y1="470" x2="398.9" y2="472.9" stroke="#1a1a1a" stroke-width="1" />
<text transform="translate(398.9 482.3) scale(1 1.0)" font-size="9.8" text-anchor="middle" stroke="#000" stroke-width="0.25">0</text>
<line x1="416.8" y1="470" x2="416.8" y2="472.9" stroke="#1a1a1a" stroke-width="1" />
<text transform="translate(416.8 482.3) scale(1 1.0)" font-size="9.8" text-anchor="middle" stroke="#000" stroke-width="0.25">1</text>
<line x1="434.8" y1="470" x2="434.8" y2="472.9" stroke="#1a1a1a" stroke-width="1" />
<text transform="translate(434.8 482.3) scale(1 1.0)" font-size="9.8" text-anchor="middle" stroke="#000" stroke-width="0.25">3</text>
<line x1="452.7" y1="470" x2="452.7" y2="472.9" stroke="#1a1a1a" stroke-width="1" />
<text transform="translate(452.7 482.3) scale(1 1.0)" font-size="9.8" text-anchor="middle" stroke="#000" stroke-width="0.25">10</text>
<line x1="470.6" y1="470" x2="470.6" y2="472.9" stroke="#1a1a1a" stroke-width="1" />
<text transform="translate(470.6 482.3) scale(1 1.0)" font-size="9.8" text-anchor="middle" stroke="#000" stroke-width="0.25">30</text>
<text x="479.6" y="482.5" font-size="8.4" text-anchor="start" font-weight="normal"  stroke="#000" stroke-width="0.22">(μg/mL)</text>
<text x="432.5" y="356.7" font-size="12.5" text-anchor="middle" font-weight="bold" >IL-2</text>
<text transform="translate(361 416.55) rotate(-90)" font-size="8.46" text-anchor="middle" stroke="#000" stroke-width="0.2">cytokine concentration (ng/mL)</text>
<polyline fill="none" stroke="#1a1a1a" stroke-width="1.15" points="398.9,469 416.8,461.9 434.8,454.8 452.7,454.8 470.6,463.2"/>
<circle cx="398.9" cy="469" r="3.15" fill="#000"/>
<circle cx="416.8" cy="461.9" r="3.15" fill="#000"/>
<circle cx="434.8" cy="454.8" r="3.15" fill="#000"/>
<circle cx="452.7" cy="454.8" r="3.15" fill="#000"/>
<circle cx="470.6" cy="463.2" r="3.15" fill="#000"/>
<line x1="434.8" y1="419.5" x2="434.8" y2="430.2" stroke="#000" stroke-width="1" />
<line x1="433.1" y1="419.5" x2="436.5" y2="419.5" stroke="#000" stroke-width="1" />
<line x1="433.1" y1="430.2" x2="436.5" y2="430.2" stroke="#000" stroke-width="1" />
<line x1="452.7" y1="411" x2="452.7" y2="425.2" stroke="#000" stroke-width="1" />
<line x1="451" y1="411" x2="454.4" y2="411" stroke="#000" stroke-width="1" />
<line x1="451" y1="425.2" x2="454.4" y2="425.2" stroke="#000" stroke-width="1" />
<polyline fill="none" stroke="#1a1a1a" stroke-width="0.9" points="398.9,469 416.8,445.4 434.8,425.2 452.7,418.5 470.6,447.1"/>
<circle cx="398.9" cy="469" r="2.9" fill="#fff" stroke="#1a1a1a" stroke-width="0.9"/>
<circle cx="416.8" cy="445.4" r="2.9" fill="#fff" stroke="#1a1a1a" stroke-width="0.9"/>
<circle cx="434.8" cy="425.2" r="2.9" fill="#fff" stroke="#1a1a1a" stroke-width="0.9"/>
<circle cx="452.7" cy="418.5" r="2.9" fill="#fff" stroke="#1a1a1a" stroke-width="0.9"/>
<circle cx="470.6" cy="447.1" r="2.9" fill="#fff" stroke="#1a1a1a" stroke-width="0.9"/>
<rect x="46.9" y="503.1" width="107.6" height="107.6" fill="none" stroke="#1a1a1a" stroke-width="1"/>
<line x1="44" y1="610.7" x2="46.9" y2="610.7" stroke="#1a1a1a" stroke-width="1" />
<text transform="translate(42.1 615.4) scale(1 1.0)" font-size="9.8" text-anchor="end" stroke="#000" stroke-width="0.25">0</text>
<line x1="44" y1="583.8" x2="46.9" y2="583.8" stroke="#1a1a1a" stroke-width="1" />
<text transform="translate(42.1 588.5) scale(1 1.0)" font-size="9.8" text-anchor="end" stroke="#000" stroke-width="0.25">20</text>
<line x1="44" y1="556.9" x2="46.9" y2="556.9" stroke="#1a1a1a" stroke-width="1" />
<text transform="translate(42.1 561.6) scale(1 1.0)" font-size="9.8" text-anchor="end" stroke="#000" stroke-width="0.25">40</text>
<line x1="44" y1="530" x2="46.9" y2="530" stroke="#1a1a1a" stroke-width="1" />
<text transform="translate(42.1 534.7) scale(1 1.0)" font-size="9.8" text-anchor="end" stroke="#000" stroke-width="0.25">60</text>
<line x1="44" y1="503.1" x2="46.9" y2="503.1" stroke="#1a1a1a" stroke-width="1" />
<text transform="translate(42.1 507.8) scale(1 1.0)" font-size="9.8" text-anchor="end" stroke="#000" stroke-width="0.25">80</text>
<line x1="64.6" y1="610.7" x2="64.6" y2="613.6" stroke="#1a1a1a" stroke-width="1" />
<text transform="translate(64.6 623) scale(1 1.0)" font-size="9.8" text-anchor="middle" stroke="#000" stroke-width="0.25">0</text>
<line x1="82.5" y1="610.7" x2="82.5" y2="613.6" stroke="#1a1a1a" stroke-width="1" />
<text transform="translate(82.5 623) scale(1 1.0)" font-size="9.8" text-anchor="middle" stroke="#000" stroke-width="0.25">1</text>
<line x1="100.5" y1="610.7" x2="100.5" y2="613.6" stroke="#1a1a1a" stroke-width="1" />
<text transform="translate(100.5 623) scale(1 1.0)" font-size="9.8" text-anchor="middle" stroke="#000" stroke-width="0.25">3</text>
<line x1="118.4" y1="610.7" x2="118.4" y2="613.6" stroke="#1a1a1a" stroke-width="1" />
<text transform="translate(118.4 623) scale(1 1.0)" font-size="9.8" text-anchor="middle" stroke="#000" stroke-width="0.25">10</text>
<line x1="136.3" y1="610.7" x2="136.3" y2="613.6" stroke="#1a1a1a" stroke-width="1" />
<text transform="translate(136.3 623) scale(1 1.0)" font-size="9.8" text-anchor="middle" stroke="#000" stroke-width="0.25">30</text>
<text x="144.9" y="623.2" font-size="8.4" text-anchor="start" font-weight="normal"  stroke="#000" stroke-width="0.22">(μg/mL)</text>
<text x="101" y="499.6" font-size="12.5" text-anchor="middle" font-weight="bold" >IL-4</text>
<text transform="translate(15.6 557.4) rotate(-90)" font-size="8.46" text-anchor="middle" stroke="#000" stroke-width="0.2">cytokine concentration (pg/mL)</text>
<polyline fill="none" stroke="#1a1a1a" stroke-width="1.15" points="64.6,610.6 82.5,605.4 100.5,608.2 118.4,609.2 136.3,610.1"/>
<circle cx="64.6" cy="610.6" r="3.15" fill="#000"/>
<circle cx="82.5" cy="605.4" r="3.15" fill="#000"/>
<circle cx="100.5" cy="608.2" r="3.15" fill="#000"/>
<circle cx="118.4" cy="609.2" r="3.15" fill="#000"/>
<circle cx="136.3" cy="610.1" r="3.15" fill="#000"/>
<polyline fill="none" stroke="#1a1a1a" stroke-width="0.9" points="64.6,610.6 82.5,602.3 100.5,596.3 118.4,595.2 136.3,604.4"/>
<circle cx="64.6" cy="610.6" r="2.9" fill="#fff" stroke="#1a1a1a" stroke-width="0.9"/>
<circle cx="82.5" cy="602.3" r="2.9" fill="#fff" stroke="#1a1a1a" stroke-width="0.9"/>
<circle cx="100.5" cy="596.3" r="2.9" fill="#fff" stroke="#1a1a1a" stroke-width="0.9"/>
<circle cx="118.4" cy="595.2" r="2.9" fill="#fff" stroke="#1a1a1a" stroke-width="0.9"/>
<circle cx="136.3" cy="604.4" r="2.9" fill="#fff" stroke="#1a1a1a" stroke-width="0.9"/>
<rect x="212.6" y="503.1" width="107.6" height="107.6" fill="none" stroke="#1a1a1a" stroke-width="1"/>
<line x1="209.7" y1="610.7" x2="212.6" y2="610.7" stroke="#1a1a1a" stroke-width="1" />
<text transform="translate(207.8 615.4) scale(1 1.0)" font-size="9.8" text-anchor="end" stroke="#000" stroke-width="0.25">0</text>
<line x1="209.7" y1="561.7" x2="212.6" y2="561.7" stroke="#1a1a1a" stroke-width="1" />
<text transform="translate(207.8 566.4) scale(1 1.0)" font-size="9.8" text-anchor="end" stroke="#000" stroke-width="0.25">0.5</text>
<line x1="209.7" y1="512.7" x2="212.6" y2="512.7" stroke="#1a1a1a" stroke-width="1" />
<text transform="translate(207.8 517.4) scale(1 1.0)" font-size="9.8" text-anchor="end" stroke="#000" stroke-width="0.25">1</text>
<line x1="230.3" y1="610.7" x2="230.3" y2="613.6" stroke="#1a1a1a" stroke-width="1" />
<text transform="translate(230.3 623) scale(1 1.0)" font-size="9.8" text-anchor="middle" stroke="#000" stroke-width="0.25">0</text>
<line x1="248.2" y1="610.7" x2="248.2" y2="613.6" stroke="#1a1a1a" stroke-width="1" />
<text transform="translate(248.2 623) scale(1 1.0)" font-size="9.8" text-anchor="middle" stroke="#000" stroke-width="0.25">1</text>
<line x1="266.2" y1="610.7" x2="266.2" y2="613.6" stroke="#1a1a1a" stroke-width="1" />
<text transform="translate(266.2 623) scale(1 1.0)" font-size="9.8" text-anchor="middle" stroke="#000" stroke-width="0.25">3</text>
<line x1="284.1" y1="610.7" x2="284.1" y2="613.6" stroke="#1a1a1a" stroke-width="1" />
<text transform="translate(284.1 623) scale(1 1.0)" font-size="9.8" text-anchor="middle" stroke="#000" stroke-width="0.25">10</text>
<line x1="302" y1="610.7" x2="302" y2="613.6" stroke="#1a1a1a" stroke-width="1" />
<text transform="translate(302 623) scale(1 1.0)" font-size="9.8" text-anchor="middle" stroke="#000" stroke-width="0.25">30</text>
<text x="309.8" y="623.2" font-size="8.4" text-anchor="start" font-weight="normal"  stroke="#000" stroke-width="0.22">(μg/mL)</text>
<text x="264.5" y="499.4" font-size="12.5" text-anchor="middle" font-weight="bold" >IL-5</text>
<text transform="translate(187.5 557.4) rotate(-90)" font-size="8.46" text-anchor="middle" stroke="#000" stroke-width="0.2">cytokine concentration (ng/mL)</text>
<line x1="284.1" y1="575.3" x2="284.1" y2="591.1" stroke="#000" stroke-width="1" />
<line x1="282.4" y1="575.3" x2="285.8" y2="575.3" stroke="#000" stroke-width="1" />
<line x1="282.4" y1="591.1" x2="285.8" y2="591.1" stroke="#000" stroke-width="1" />
<polyline fill="none" stroke="#1a1a1a" stroke-width="1.15" points="230.3,610 248.2,592.5 266.2,587.7 284.1,583.4 302,575"/>
<circle cx="230.3" cy="610" r="3.15" fill="#000"/>
<circle cx="248.2" cy="592.5" r="3.15" fill="#000"/>
<circle cx="266.2" cy="587.7" r="3.15" fill="#000"/>
<circle cx="284.1" cy="583.4" r="3.15" fill="#000"/>
<circle cx="302" cy="575" r="3.15" fill="#000"/>
<polyline fill="none" stroke="#1a1a1a" stroke-width="0.9" points="230.3,610 248.2,603.2 266.2,597.8 284.1,602.6 302,602.6"/>
<circle cx="230.3" cy="610" r="2.9" fill="#fff" stroke="#1a1a1a" stroke-width="0.9"/>
<circle cx="248.2" cy="603.2" r="2.9" fill="#fff" stroke="#1a1a1a" stroke-width="0.9"/>
<circle cx="266.2" cy="597.8" r="2.9" fill="#fff" stroke="#1a1a1a" stroke-width="0.9"/>
<circle cx="284.1" cy="602.6" r="2.9" fill="#fff" stroke="#1a1a1a" stroke-width="0.9"/>
<circle cx="302" cy="602.6" r="2.9" fill="#fff" stroke="#1a1a1a" stroke-width="0.9"/>
<rect x="390.5" y="503.1" width="107.6" height="107.6" fill="none" stroke="#1a1a1a" stroke-width="1"/>
<line x1="387.6" y1="610.7" x2="390.5" y2="610.7" stroke="#1a1a1a" stroke-width="1" />
<text transform="translate(385.7 615.4) scale(1 1.0)" font-size="9.8" text-anchor="end" stroke="#000" stroke-width="0.25">0</text>
<line x1="387.6" y1="583.8" x2="390.5" y2="583.8" stroke="#1a1a1a" stroke-width="1" />
<text transform="translate(385.7 588.5) scale(1 1.0)" font-size="9.8" text-anchor="end" stroke="#000" stroke-width="0.25">2</text>
<line x1="387.6" y1="556.9" x2="390.5" y2="556.9" stroke="#1a1a1a" stroke-width="1" />
<text transform="translate(385.7 561.6) scale(1 1.0)" font-size="9.8" text-anchor="end" stroke="#000" stroke-width="0.25">4</text>
<line x1="387.6" y1="530" x2="390.5" y2="530" stroke="#1a1a1a" stroke-width="1" />
<text transform="translate(385.7 534.7) scale(1 1.0)" font-size="9.8" text-anchor="end" stroke="#000" stroke-width="0.25">6</text>
<line x1="387.6" y1="503.1" x2="390.5" y2="503.1" stroke="#1a1a1a" stroke-width="1" />
<text transform="translate(385.7 507.8) scale(1 1.0)" font-size="9.8" text-anchor="end" stroke="#000" stroke-width="0.25">8</text>
<line x1="408.2" y1="610.7" x2="408.2" y2="613.6" stroke="#1a1a1a" stroke-width="1" />
<text transform="translate(408.2 623) scale(1 1.0)" font-size="9.8" text-anchor="middle" stroke="#000" stroke-width="0.25">0</text>
<line x1="426.1" y1="610.7" x2="426.1" y2="613.6" stroke="#1a1a1a" stroke-width="1" />
<text transform="translate(426.1 623) scale(1 1.0)" font-size="9.8" text-anchor="middle" stroke="#000" stroke-width="0.25">1</text>
<line x1="444.1" y1="610.7" x2="444.1" y2="613.6" stroke="#1a1a1a" stroke-width="1" />
<text transform="translate(444.1 623) scale(1 1.0)" font-size="9.8" text-anchor="middle" stroke="#000" stroke-width="0.25">3</text>
<line x1="462" y1="610.7" x2="462" y2="613.6" stroke="#1a1a1a" stroke-width="1" />
<text transform="translate(462 623) scale(1 1.0)" font-size="9.8" text-anchor="middle" stroke="#000" stroke-width="0.25">10</text>
<line x1="479.9" y1="610.7" x2="479.9" y2="613.6" stroke="#1a1a1a" stroke-width="1" />
<text transform="translate(479.9 623) scale(1 1.0)" font-size="9.8" text-anchor="middle" stroke="#000" stroke-width="0.25">30</text>
<text x="488.3" y="623.2" font-size="8.4" text-anchor="start" font-weight="normal"  stroke="#000" stroke-width="0.22">(μg/mL)</text>
<text x="441.9" y="499.8" font-size="12.5" text-anchor="middle" font-weight="bold" >IL-13</text>
<text transform="translate(362.9 557.4) rotate(-90)" font-size="8.46" text-anchor="middle" stroke="#000" stroke-width="0.2">cytokine concentration (ng/mL)</text>
<polyline fill="none" stroke="#1a1a1a" stroke-width="1.15" points="408.2,610.6 426.1,609.8 444.1,609.5 462,608.8 479.9,610"/>
<circle cx="408.2" cy="610.6" r="3.15" fill="#000"/>
<circle cx="426.1" cy="609.8" r="3.15" fill="#000"/>
<circle cx="444.1" cy="609.5" r="3.15" fill="#000"/>
<circle cx="462" cy="608.8" r="3.15" fill="#000"/>
<circle cx="479.9" cy="610" r="3.15" fill="#000"/>
<line x1="444.1" y1="592.8" x2="444.1" y2="602.9" stroke="#000" stroke-width="1" />
<line x1="442.4" y1="592.8" x2="445.8" y2="592.8" stroke="#000" stroke-width="1" />
<line x1="442.4" y1="602.9" x2="445.8" y2="602.9" stroke="#000" stroke-width="1" />
<polyline fill="none" stroke="#1a1a1a" stroke-width="0.9" points="408.2,610.6 426.1,604.8 444.1,598.2 462,604 479.9,609.6"/>
<circle cx="408.2" cy="610.6" r="2.9" fill="#fff" stroke="#1a1a1a" stroke-width="0.9"/>
<circle cx="426.1" cy="604.8" r="2.9" fill="#fff" stroke="#1a1a1a" stroke-width="0.9"/>
<circle cx="444.1" cy="598.2" r="2.9" fill="#fff" stroke="#1a1a1a" stroke-width="0.9"/>
<circle cx="462" cy="604" r="2.9" fill="#fff" stroke="#1a1a1a" stroke-width="0.9"/>
<circle cx="479.9" cy="609.6" r="2.9" fill="#fff" stroke="#1a1a1a" stroke-width="0.9"/>
<text x="4.4" y="671.4" font-size="24.5" text-anchor="start" font-weight="bold" >C</text>
<text transform="translate(56 667.2) scale(1.075 1)" font-size="16.6" font-weight="bold">KLH+CFA</text>
<text x="227.9" y="675" font-size="16.9" text-anchor="middle" font-weight="bold" >stimulation(-)</text>
<text x="394.3" y="675" font-size="16.9" text-anchor="middle" font-weight="bold" >stimulation(+)</text>
<text x="60.6" y="767.8" font-size="15.9" font-weight="bold">Vav1<tspan dx="2.2" dy="-5.2" font-size="16">+/+</tspan></text>
<text x="60.6" y="932.2" font-size="15.9" font-weight="bold">Vav1<tspan dx="1.6" dy="-5.2" font-size="16">-/-</tspan></text>
<line x1="132.7" y1="688" x2="133.1" y2="809.5" stroke="#000" stroke-width="1.4" />
<polygon points="132.7,680.2 136.6,691 128.8,691" fill="#000"/>
<line x1="133.3" y1="871" x2="133.5" y2="999.5" stroke="#000" stroke-width="1.4" />
<text transform="translate(136.2 855.5) rotate(-90)" font-size="17.5" font-weight="bold">IFN<tspan font-weight="normal" font-size="16">γ</tspan></text>
<line x1="142.5" y1="1017.8" x2="292" y2="1017.8" stroke="#000" stroke-width="1.4" />
<line x1="341.5" y1="1017.8" x2="456" y2="1017.8" stroke="#000" stroke-width="1.4" />
<polygon points="466,1017.8 454,1013.8 454,1021.8" fill="#000"/>
<text x="300" y="1024" font-size="17.2" text-anchor="start" font-weight="bold" >CD4</text>
<path d="M176 766.5h1M188 766.5h2M194 766.5h1M204 766.5h1M252 766.5h1M168 767.5h1M175 767.5h4M187 767.5h3M193 767.5h1M204 767.5h2M168 768.5h1M174 768.5h1M177 768.5h2M186 768.5h2M194 768.5h1M205 768.5h2M208 768.5h2M260 768.5h1M168 769.5h1M174 769.5h2M177 769.5h2M180 769.5h4M187 769.5h1M190 769.5h1M199 769.5h2M203 769.5h6M214 769.5h1M216 769.5h1M225 769.5h1M259 769.5h3M167 770.5h1M174 770.5h1M176 770.5h2M180 770.5h3M184 770.5h2M188 770.5h3M199 770.5h3M204 770.5h6M213 770.5h1M215 770.5h1M217 770.5h2M221 770.5h1M236 770.5h2M250 770.5h1M259 770.5h1M166 771.5h3M170 771.5h2M173 771.5h1M175 771.5h11M188 771.5h3M192 771.5h3M198 771.5h3M202 771.5h1M204 771.5h14M219 771.5h1M221 771.5h2M233 771.5h4M249 771.5h3M260 771.5h1M262 771.5h2M271 771.5h1M166 772.5h5M173 772.5h2M177 772.5h3M181 772.5h14M196 772.5h4M201 772.5h10M212 772.5h7M220 772.5h1M223 772.5h3M233 772.5h2M245 772.5h1M262 772.5h2M265 772.5h2M271 772.5h2M167 773.5h6M174 773.5h5M180 773.5h8M189 773.5h14M204 773.5h23M233 773.5h1M244 773.5h2M263 773.5h1M265 773.5h4M166 774.5h55M222 774.5h5M228 774.5h1M230 774.5h1M239 774.5h2M242 774.5h3M256 774.5h2M260 774.5h4M265 774.5h5M166 775.5h31M198 775.5h2M201 775.5h31M237 775.5h3M242 775.5h2M250 775.5h1M255 775.5h3M259 775.5h2M262 775.5h7M270 775.5h4M276 775.5h1M280 775.5h1M166 776.5h9M176 776.5h24M201 776.5h1M203 776.5h30M235 776.5h5M243 776.5h1M245 776.5h2M251 776.5h1M255 776.5h9M265 776.5h5M271 776.5h5M277 776.5h1M166 777.5h3M170 777.5h63M235 777.5h2M242 777.5h1M245 777.5h2M252 777.5h3M256 777.5h5M262 777.5h16M285 777.5h1M166 778.5h66M233 778.5h4M241 778.5h1M244 778.5h4M253 778.5h4M258 778.5h4M263 778.5h10M274 778.5h3M278 778.5h1M282 778.5h1M286 778.5h1M166 779.5h69M236 779.5h1M245 779.5h1M249 779.5h1M254 779.5h26M282 779.5h2M287 779.5h2M166 780.5h72M242 780.5h4M249 780.5h1M255 780.5h25M282 780.5h1M286 780.5h3M166 781.5h71M240 781.5h3M244 781.5h2M250 781.5h3M255 781.5h21M277 781.5h3M282 781.5h1M285 781.5h1M166 782.5h70M241 782.5h2M244 782.5h3M250 782.5h4M256 782.5h21M278 782.5h1M282 782.5h3M166 783.5h70M241 783.5h1M243 783.5h4M251 783.5h2M254 783.5h22M277 783.5h3M281 783.5h1M283 783.5h3M290 783.5h3M166 784.5h70M238 784.5h6M245 784.5h1M251 784.5h1M253 784.5h1M255 784.5h2M258 784.5h23M282 784.5h1M285 784.5h1M291 784.5h1M166 785.5h70M237 785.5h9M252 785.5h4M257 785.5h23M283 785.5h2M166 786.5h73M240 786.5h1M243 786.5h3M252 786.5h27M282 786.5h1M284 786.5h1M166 787.5h72M239 787.5h6M252 787.5h28M282 787.5h2M287 787.5h1M166 788.5h70M240 788.5h3M251 788.5h2M254 788.5h1M256 788.5h29M166 789.5h71M240 789.5h5M247 789.5h2M250 789.5h35M166 790.5h74M243 790.5h4M248 790.5h23M272 790.5h9M282 790.5h4M166 791.5h69M236 791.5h3M243 791.5h1M245 791.5h1M247 791.5h5M253 791.5h32M287 791.5h1M166 792.5h66M233 792.5h7M243 792.5h2M251 792.5h25M277 792.5h4M282 792.5h2M285 792.5h2M166 793.5h69M236 793.5h1M239 793.5h1M250 793.5h27M278 793.5h2M281 793.5h3M285 793.5h2M166 794.5h66M233 794.5h1M235 794.5h2M239 794.5h2M248 794.5h1M250 794.5h4M255 794.5h24M280 794.5h3M166 795.5h62M229 795.5h3M234 795.5h2M237 795.5h2M240 795.5h2M249 795.5h3M253 795.5h25M280 795.5h3M166 796.5h66M235 796.5h2M238 796.5h2M242 796.5h3M249 796.5h1M252 796.5h25M278 796.5h5M289 796.5h1M166 797.5h61M228 797.5h5M236 797.5h1M238 797.5h1M240 797.5h6M250 797.5h2M253 797.5h30M288 797.5h2M166 798.5h62M229 798.5h4M240 798.5h1M244 798.5h1M246 798.5h1M250 798.5h26M277 798.5h4M282 798.5h2M285 798.5h1M288 798.5h2M166 799.5h64M231 799.5h1M241 799.5h3M246 799.5h2M250 799.5h1M252 799.5h27M280 799.5h2M283 799.5h2M286 799.5h1M166 800.5h63M242 800.5h2M250 800.5h3M254 800.5h23M278 800.5h2M282 800.5h1M166 801.5h62M248 801.5h3M253 801.5h24M278 801.5h3M286 801.5h1M166 802.5h63M232 802.5h2M235 802.5h1M246 802.5h1M249 802.5h1M252 802.5h27M285 802.5h1M166 803.5h61M228 803.5h1M231 803.5h4M243 803.5h1M247 803.5h1M252 803.5h1M254 803.5h23M278 803.5h2M282 803.5h1M284 803.5h1M166 804.5h65M233 804.5h1M243 804.5h2M246 804.5h2M252 804.5h3M256 804.5h24M283 804.5h1M289 804.5h2M166 805.5h55M222 805.5h5M229 805.5h1M232 805.5h2M237 805.5h1M243 805.5h6M253 805.5h26M280 805.5h1M290 805.5h1M166 806.5h61M233 806.5h2M236 806.5h2M246 806.5h2M252 806.5h23M276 806.5h4M166 807.5h54M221 807.5h1M223 807.5h1M233 807.5h3M240 807.5h1M242 807.5h1M245 807.5h2M252 807.5h26M279 807.5h2M166 808.5h56M223 808.5h2M239 808.5h1M241 808.5h1M245 808.5h5M253 808.5h23M277 808.5h1M279 808.5h2M166 809.5h57M224 809.5h1M240 809.5h1M244 809.5h2M247 809.5h5M254 809.5h27M166 810.5h53M220 810.5h1M227 810.5h3M245 810.5h4M250 810.5h1M252 810.5h1M254 810.5h20M276 810.5h2M279 810.5h1M284 810.5h1M166 811.5h54M228 811.5h1M237 811.5h2M246 811.5h1M248 811.5h1M250 811.5h6M257 811.5h19M280 811.5h1M285 811.5h2M166 812.5h51M218 812.5h2M236 812.5h3M247 812.5h4M252 812.5h1M254 812.5h22M280 812.5h2M286 812.5h1M166 813.5h54M221 813.5h2M236 813.5h2M246 813.5h2M249 813.5h1M251 813.5h7M259 813.5h18M281 813.5h1M166 814.5h50M217 814.5h1M220 814.5h1M222 814.5h2M246 814.5h4M252 814.5h24M167 815.5h50M221 815.5h2M247 815.5h3M252 815.5h2M255 815.5h2M258 815.5h15" stroke="#050505" stroke-width="1" fill="none" shape-rendering="crispEdges"/>
<g transform="translate(0.3 0.28)">
<path d="M214 732.5h1M273 733.5h1M235 738.5h1M247 738.5h1M253 738.5h1M254 740.5h1M287 740.5h1M166 741.5h1M170 741.5h1M179 741.5h1M194 741.5h1M209 741.5h1M182 743.5h1M227 743.5h1M203 744.5h1M205 744.5h1M254 744.5h1M166 745.5h1M176 745.5h1M224 745.5h1M230 745.5h1M289 745.5h1M168 746.5h1M183 746.5h1M176 747.5h1M195 747.5h1M206 747.5h1M248 747.5h1M257 747.5h1M272 747.5h1M169 748.5h1M184 748.5h1M191 749.5h1M191 750.5h1M197 750.5h1M205 750.5h1M174 751.5h1M177 751.5h1M182 751.5h1M198 751.5h1M230 751.5h1M189 752.5h1M194 752.5h1M177 753.5h1M232 753.5h1M242 753.5h1M173 754.5h1M183 754.5h1M185 754.5h1M189 754.5h1M167 755.5h1M172 755.5h1M185 755.5h1M193 755.5h1M202 755.5h1M208 755.5h2M220 755.5h1M250 755.5h1M174 756.5h1M217 756.5h1M240 756.5h2M256 756.5h1M209 757.5h1M214 757.5h1M244 757.5h1M248 757.5h1M282 757.5h1M166 758.5h1M202 758.5h1M251 758.5h1M172 759.5h1M181 759.5h1M210 759.5h1M213 759.5h1M225 759.5h1M241 759.5h1M246 759.5h1M186 760.5h1M211 760.5h1M218 760.5h1M220 760.5h1M236 760.5h1M167 761.5h1M194 761.5h1M202 761.5h1M221 761.5h1M235 761.5h1M253 761.5h1M257 761.5h1M278 761.5h1M174 762.5h1M182 762.5h1M185 762.5h1M187 762.5h1M189 762.5h1M192 762.5h1M208 762.5h1M214 762.5h1M232 762.5h1M237 762.5h1M244 762.5h1M249 762.5h1M286 762.5h1M288 762.5h1M189 763.5h1M197 763.5h1M207 763.5h1M214 763.5h1M220 763.5h1M230 763.5h1M241 763.5h1M251 763.5h1M272 763.5h1M173 764.5h1M176 764.5h1M178 764.5h1M183 764.5h1M193 764.5h1M199 764.5h1M202 764.5h1M210 764.5h1M217 764.5h1M219 764.5h1M224 764.5h1M236 764.5h1M248 764.5h1M253 764.5h1M281 764.5h1M287 764.5h1M168 765.5h1M205 765.5h1M207 765.5h1M221 765.5h1M223 765.5h1M231 765.5h1M238 765.5h2M241 765.5h1M248 765.5h1M262 765.5h1M265 765.5h1M282 765.5h1M185 766.5h1M199 766.5h1M211 766.5h1M217 766.5h1M227 766.5h2M233 766.5h1M255 766.5h1M289 766.5h1M180 767.5h1M191 767.5h1M235 767.5h1M240 767.5h2M243 767.5h1M246 767.5h1M269 767.5h1M276 767.5h1M279 767.5h1M283 767.5h1M292 767.5h1M171 768.5h1M219 768.5h1M229 768.5h1M256 768.5h1M286 768.5h1M289 768.5h1M222 769.5h1M239 769.5h1M247 769.5h1M269 769.5h1M274 769.5h1M284 769.5h1M242 770.5h1M252 770.5h1M267 770.5h1M292 770.5h1M228 771.5h1M230 771.5h1M240 771.5h1M256 771.5h1M280 771.5h1M237 772.5h1M254 772.5h1M275 772.5h1M281 772.5h1M293 772.5h1M277 773.5h1M290 773.5h1M252 774.5h1M288 775.5h1M292 775.5h1M284 776.5h1M288 776.5h1M290 777.5h1M238 778.5h1M293 778.5h1M252 779.5h1M292 780.5h1M290 781.5h1M239 782.5h1M294 782.5h1M295 783.5h1M288 789.5h2M293 790.5h1M292 796.5h1M234 800.5h1M240 801.5h1M292 802.5h1M249 803.5h1M240 804.5h1M293 806.5h1M227 808.5h1M293 808.5h1M235 809.5h1M233 810.5h1M290 810.5h1M293 810.5h1M226 811.5h1M231 811.5h1M243 811.5h1M225 813.5h1M232 813.5h1M293 813.5h1M227 814.5h1M286 814.5h1M225 815.5h1M229 815.5h1M233 815.5h1M238 815.5h1M243 815.5h1M280 815.5h1M290 815.5h1" stroke="#3a3a3a" stroke-width="1" fill="none"/>
<path d="M189 753.5h1M172 761.5h1M171 762.5h2M210 762.5h2M181 763.5h1M211 763.5h1M226 763.5h1M237 763.5h1M181 764.5h1M226 764.5h2M231 764.5h1M243 764.5h3M172 765.5h1M180 765.5h2M189 765.5h1M195 765.5h3M199 765.5h1M244 765.5h1M251 765.5h1M253 765.5h1M167 766.5h1M171 766.5h1M175 766.5h1M178 766.5h1M187 766.5h1M193 766.5h1M197 766.5h1M203 766.5h1M219 766.5h2M250 766.5h2M253 766.5h1M171 767.5h1M173 767.5h1M195 767.5h1M197 767.5h1M209 767.5h1M212 767.5h1M220 767.5h1M232 767.5h1M273 767.5h2M288 767.5h1M167 768.5h1M169 768.5h1M173 768.5h1M180 768.5h1M183 768.5h1M189 768.5h1M191 768.5h1M193 768.5h1M197 768.5h1M200 768.5h1M203 768.5h1M210 768.5h2M215 768.5h1M225 768.5h1M233 768.5h1M236 768.5h1M247 768.5h1M259 768.5h1M262 768.5h2M270 768.5h1M273 768.5h1M280 768.5h2M283 768.5h1M185 769.5h1M195 769.5h1M197 769.5h1M212 769.5h2M217 769.5h1M224 769.5h1M226 769.5h1M231 769.5h2M236 769.5h1M254 769.5h2M262 769.5h1M271 769.5h1M277 769.5h1M281 769.5h1M170 770.5h2M173 770.5h1M187 770.5h1M192 770.5h1M194 770.5h1M196 770.5h2M202 770.5h1M220 770.5h1M226 770.5h1M230 770.5h1M232 770.5h1M238 770.5h1M249 770.5h1M254 770.5h1M264 770.5h1M272 770.5h1M276 770.5h1M278 770.5h1M223 771.5h1M225 771.5h1M242 771.5h1M244 771.5h3M259 771.5h1M261 771.5h1M265 771.5h1M268 771.5h3M276 771.5h2M232 772.5h1M241 772.5h1M243 772.5h1M247 772.5h1M250 772.5h1M252 772.5h2M259 772.5h1M273 772.5h1M284 772.5h4M228 773.5h2M235 773.5h1M239 773.5h1M246 773.5h1M248 773.5h1M252 773.5h1M257 773.5h1M260 773.5h1M269 773.5h1M271 773.5h1M273 773.5h1M278 773.5h1M283 773.5h1M287 773.5h1M234 774.5h1M236 774.5h2M249 774.5h2M255 774.5h1M273 774.5h1M279 774.5h5M285 774.5h2M232 775.5h1M234 775.5h1M241 775.5h1M246 775.5h1M275 775.5h1M277 775.5h1M286 775.5h1M234 776.5h1M249 776.5h2M252 776.5h1M281 776.5h1M240 777.5h2M243 777.5h1M248 777.5h1M281 777.5h2M248 778.5h1M279 778.5h1M284 778.5h2M287 778.5h1M241 779.5h1M250 779.5h1M281 779.5h1M289 779.5h1M238 780.5h2M248 780.5h1M254 781.5h1M284 781.5h1M286 781.5h1M247 782.5h1M281 782.5h1M289 782.5h1M292 782.5h1M236 783.5h1M249 783.5h1M286 783.5h1M248 784.5h2M287 784.5h3M292 784.5h1M250 785.5h1M282 785.5h1M247 786.5h2M280 786.5h1M285 786.5h1M288 786.5h1M290 786.5h2M245 787.5h1M247 787.5h1M249 787.5h1M286 787.5h1M288 787.5h2M291 787.5h1M247 788.5h1M249 788.5h1M286 788.5h1M238 789.5h1M240 790.5h1M286 790.5h1M242 791.5h1M288 791.5h2M240 792.5h1M245 792.5h1M247 792.5h1M288 792.5h1M241 793.5h1M243 793.5h1M245 793.5h1M247 793.5h1M249 793.5h1M242 794.5h1M245 794.5h1M285 794.5h1M288 794.5h2M246 795.5h2M283 795.5h1M286 795.5h1M288 795.5h1M233 796.5h1M248 796.5h1M285 796.5h1M290 796.5h1M234 797.5h1M284 797.5h1M293 797.5h1M235 798.5h1M237 798.5h1M239 798.5h1M247 798.5h1M287 798.5h1M290 798.5h1M293 798.5h2M285 799.5h1M290 799.5h1M229 800.5h1M231 800.5h1M237 800.5h2M240 800.5h1M246 800.5h1M248 800.5h1M283 800.5h1M287 800.5h1M290 800.5h1M231 801.5h1M236 801.5h1M238 801.5h1M243 801.5h1M245 801.5h1M281 801.5h1M285 801.5h1M288 801.5h3M229 802.5h2M238 802.5h1M243 802.5h1M245 802.5h1M247 802.5h1M251 802.5h1M281 802.5h1M283 802.5h1M287 802.5h1M235 803.5h2M238 803.5h1M242 803.5h1M286 803.5h1M289 803.5h1M292 803.5h1M238 804.5h1M251 804.5h1M280 804.5h1M282 804.5h1M284 804.5h1M293 804.5h1M231 805.5h1M236 805.5h1M238 805.5h1M249 805.5h1M285 805.5h1M288 805.5h1M291 805.5h1M293 805.5h1M227 806.5h2M240 806.5h2M243 806.5h1M249 806.5h3M281 806.5h1M284 806.5h2M287 806.5h2M291 806.5h1M229 807.5h1M236 807.5h1M283 807.5h1M225 808.5h1M230 808.5h1M233 808.5h1M242 808.5h2M284 808.5h1M225 809.5h1M227 809.5h1M229 809.5h1M233 809.5h1M238 809.5h2M252 809.5h1M283 809.5h1M222 810.5h2M237 810.5h1M241 810.5h1M281 810.5h1M283 810.5h1M285 810.5h1M220 811.5h1M230 811.5h1M239 811.5h3M277 811.5h1M287 811.5h1M222 812.5h1M228 812.5h1M242 812.5h1M245 812.5h1M278 812.5h2M228 813.5h2M238 813.5h1M245 813.5h1M277 813.5h1M282 813.5h1M284 813.5h2M236 814.5h1M278 814.5h1M280 814.5h1M283 814.5h1M166 815.5h1M217 815.5h2M220 815.5h1M223 815.5h1M237 815.5h1M246 815.5h1M250 815.5h2M274 815.5h1M276 815.5h2" stroke="#111" stroke-width="1" fill="none"/>
</g>
<rect x="166.4" y="685.9" width="130" height="130" fill="none" stroke="#222" stroke-width="1.15"/>
<line x1="247.5" y1="685.9" x2="247.5" y2="815.9" stroke="#222" stroke-width="0.85"/>
<line x1="166.4" y1="760.5" x2="296.4" y2="760.5" stroke="#222" stroke-width="0.85"/>
<line x1="167.9" y1="702.5" x2="244.7" y2="702.5" stroke="#333" stroke-width="0.65"/>
<line x1="207.2" y1="689.9" x2="207.2" y2="714" stroke="#222" stroke-width="0.7"/>
<text x="204.8" y="700" font-size="10" text-anchor="end" stroke="#000" stroke-width="0.28">0.07%</text>
<text x="243.2" y="700" font-size="10" text-anchor="end" font-weight="bold" stroke="#000" stroke-width="0.35">0.01%</text>
<text x="204.8" y="711.6" font-size="10" text-anchor="end" stroke="#000" stroke-width="0.28">81.05%</text>
<text x="243" y="711.6" font-size="10" text-anchor="end" stroke="#000" stroke-width="0.28">18.87%</text>
<path d="M176.18 815.9v1.7M166.4 806.12h-1.7M181.91 815.9v1.7M166.4 800.39h-1.7M185.97 815.9v1.7M166.4 796.33h-1.7M189.12 815.9v1.7M166.4 793.18h-1.7M191.69 815.9v1.7M166.4 790.61h-1.7M193.87 815.9v1.7M166.4 788.43h-1.7M195.75 815.9v1.7M166.4 786.55h-1.7M197.41 815.9v1.7M166.4 784.89h-1.7M208.68 815.9v1.7M166.4 773.62h-1.7M214.41 815.9v1.7M166.4 767.89h-1.7M218.47 815.9v1.7M166.4 763.83h-1.7M221.62 815.9v1.7M166.4 760.68h-1.7M224.19 815.9v1.7M166.4 758.11h-1.7M226.37 815.9v1.7M166.4 755.93h-1.7M228.25 815.9v1.7M166.4 754.05h-1.7M229.91 815.9v1.7M166.4 752.39h-1.7M241.18 815.9v1.7M166.4 741.12h-1.7M246.91 815.9v1.7M166.4 735.39h-1.7M250.97 815.9v1.7M166.4 731.33h-1.7M254.12 815.9v1.7M166.4 728.18h-1.7M256.69 815.9v1.7M166.4 725.61h-1.7M258.87 815.9v1.7M166.4 723.43h-1.7M260.75 815.9v1.7M166.4 721.55h-1.7M262.41 815.9v1.7M166.4 719.89h-1.7M273.68 815.9v1.7M166.4 708.62h-1.7M279.41 815.9v1.7M166.4 702.89h-1.7M283.47 815.9v1.7M166.4 698.83h-1.7M286.62 815.9v1.7M166.4 695.68h-1.7M289.19 815.9v1.7M166.4 693.11h-1.7M291.37 815.9v1.7M166.4 690.93h-1.7M293.25 815.9v1.7M166.4 689.05h-1.7M294.91 815.9v1.7M166.4 687.39h-1.7" stroke="#111" stroke-width="0.75" fill="none"/>
<line x1="166.4" y1="815.9" x2="166.4" y2="818.3" stroke="#222" stroke-width="0.8"/>
<line x1="164" y1="815.9" x2="166.4" y2="815.9" stroke="#222" stroke-width="0.8"/>
<text x="168.7" y="827" font-size="6.1" text-anchor="end" stroke="#000" stroke-width="0.38">10</text>
<text x="169" y="823.5" font-size="5" stroke="#000" stroke-width="0.38">0</text>
<text transform="translate(161.5 814.9) rotate(-90) scale(0.74 1)" font-size="6.4" text-anchor="end" stroke="#000" stroke-width="0.38">10</text>
<text transform="translate(157.5 813.2) rotate(-90) scale(0.8 1)" font-size="5.2" stroke="#000" stroke-width="0.38">0</text>
<line x1="198.9" y1="815.9" x2="198.9" y2="818.3" stroke="#222" stroke-width="0.8"/>
<line x1="164" y1="783.4" x2="166.4" y2="783.4" stroke="#222" stroke-width="0.8"/>
<text x="201.2" y="827" font-size="6.1" text-anchor="end" stroke="#000" stroke-width="0.38">10</text>
<text x="201.5" y="823.5" font-size="5" stroke="#000" stroke-width="0.38">1</text>
<text transform="translate(161.5 782.4) rotate(-90) scale(0.74 1)" font-size="6.4" text-anchor="end" stroke="#000" stroke-width="0.38">10</text>
<text transform="translate(157.5 780.7) rotate(-90) scale(0.8 1)" font-size="5.2" stroke="#000" stroke-width="0.38">1</text>
<line x1="231.4" y1="815.9" x2="231.4" y2="818.3" stroke="#222" stroke-width="0.8"/>
<line x1="164" y1="750.9" x2="166.4" y2="750.9" stroke="#222" stroke-width="0.8"/>
<text x="233.7" y="827" font-size="6.1" text-anchor="end" stroke="#000" stroke-width="0.38">10</text>
<text x="234" y="823.5" font-size="5" stroke="#000" stroke-width="0.38">2</text>
<text transform="translate(161.5 749.9) rotate(-90) scale(0.74 1)" font-size="6.4" text-anchor="end" stroke="#000" stroke-width="0.38">10</text>
<text transform="translate(157.5 748.2) rotate(-90) scale(0.8 1)" font-size="5.2" stroke="#000" stroke-width="0.38">2</text>
<line x1="263.9" y1="815.9" x2="263.9" y2="818.3" stroke="#222" stroke-width="0.8"/>
<line x1="164" y1="718.4" x2="166.4" y2="718.4" stroke="#222" stroke-width="0.8"/>
<text x="266.2" y="827" font-size="6.1" text-anchor="end" stroke="#000" stroke-width="0.38">10</text>
<text x="266.5" y="823.5" font-size="5" stroke="#000" stroke-width="0.38">3</text>
<text transform="translate(161.5 717.4) rotate(-90) scale(0.74 1)" font-size="6.4" text-anchor="end" stroke="#000" stroke-width="0.38">10</text>
<text transform="translate(157.5 715.7) rotate(-90) scale(0.8 1)" font-size="5.2" stroke="#000" stroke-width="0.38">3</text>
<line x1="296.4" y1="815.9" x2="296.4" y2="818.3" stroke="#222" stroke-width="0.8"/>
<line x1="164" y1="685.9" x2="166.4" y2="685.9" stroke="#222" stroke-width="0.8"/>
<text x="298.7" y="827" font-size="6.1" text-anchor="end" stroke="#000" stroke-width="0.38">10</text>
<text x="299" y="823.5" font-size="5" stroke="#000" stroke-width="0.38">4</text>
<text transform="translate(161.5 684.9) rotate(-90) scale(0.74 1)" font-size="6.4" text-anchor="end" stroke="#000" stroke-width="0.38">10</text>
<text transform="translate(157.5 683.2) rotate(-90) scale(0.8 1)" font-size="5.2" stroke="#000" stroke-width="0.38">4</text>
<text x="230.8" y="833.5" font-size="5.9" text-anchor="middle" stroke="#000" stroke-width="0.38">CyChrome-CD4</text>
<text transform="translate(153 752.9) rotate(-90)" font-size="6.1" text-anchor="middle" stroke="#000" stroke-width="0.38">FITC-IFNgamma</text>
<path d="M387 763.5h2M380 765.5h3M385 765.5h1M338 766.5h1M375 766.5h1M379 766.5h5M385 766.5h1M337 767.5h1M348 767.5h1M371 767.5h1M373 767.5h2M378 767.5h2M381 767.5h1M385 767.5h1M389 767.5h2M411 767.5h1M338 768.5h1M342 768.5h1M361 768.5h1M366 768.5h2M370 768.5h4M375 768.5h1M378 768.5h2M381 768.5h1M383 768.5h1M386 768.5h2M411 768.5h3M341 769.5h1M352 769.5h1M359 769.5h3M366 769.5h2M370 769.5h4M375 769.5h2M378 769.5h1M380 769.5h5M387 769.5h2M393 769.5h1M412 769.5h2M443 769.5h1M341 770.5h2M351 770.5h3M356 770.5h1M359 770.5h2M367 770.5h11M379 770.5h5M387 770.5h6M394 770.5h2M405 770.5h1M439 770.5h1M442 770.5h2M341 771.5h3M347 771.5h1M350 771.5h1M352 771.5h1M354 771.5h9M364 771.5h5M370 771.5h4M375 771.5h8M386 771.5h1M388 771.5h4M393 771.5h4M399 771.5h2M402 771.5h1M416 771.5h1M430 771.5h3M434 771.5h1M436 771.5h1M441 771.5h4M331 772.5h2M336 772.5h3M341 772.5h3M346 772.5h6M353 772.5h1M355 772.5h4M361 772.5h20M382 772.5h15M400 772.5h4M405 772.5h1M415 772.5h1M419 772.5h1M424 772.5h1M431 772.5h8M441 772.5h3M331 773.5h3M335 773.5h1M337 773.5h2M340 773.5h3M345 773.5h4M350 773.5h5M356 773.5h3M360 773.5h15M376 773.5h5M382 773.5h3M386 773.5h7M394 773.5h2M399 773.5h1M401 773.5h1M403 773.5h3M407 773.5h4M426 773.5h1M431 773.5h6M438 773.5h2M441 773.5h1M331 774.5h3M335 774.5h9M345 774.5h21M367 774.5h24M392 774.5h8M403 774.5h2M406 774.5h2M425 774.5h1M430 774.5h3M434 774.5h9M453 774.5h1M331 775.5h2M335 775.5h28M364 775.5h32M397 775.5h4M403 775.5h1M405 775.5h3M426 775.5h1M428 775.5h1M431 775.5h10M442 775.5h3M446 775.5h2M449 775.5h2M331 776.5h2M334 776.5h2M337 776.5h60M398 776.5h2M404 776.5h2M407 776.5h1M427 776.5h1M429 776.5h10M440 776.5h12M331 777.5h63M395 777.5h6M404 777.5h4M426 777.5h19M446 777.5h1M448 777.5h1M450 777.5h1M331 778.5h49M381 778.5h16M398 778.5h4M416 778.5h4M425 778.5h4M430 778.5h14M445 778.5h1M449 778.5h2M331 779.5h64M396 779.5h5M402 779.5h1M415 779.5h4M423 779.5h4M428 779.5h3M432 779.5h12M445 779.5h6M331 780.5h71M403 780.5h2M412 780.5h2M415 780.5h1M417 780.5h2M421 780.5h1M423 780.5h25M331 781.5h70M402 781.5h1M404 781.5h1M410 781.5h3M414 781.5h1M416 781.5h3M420 781.5h1M422 781.5h22M445 781.5h1M447 781.5h2M331 782.5h70M402 782.5h2M410 782.5h1M413 782.5h3M419 782.5h4M425 782.5h3M429 782.5h19M331 783.5h71M403 783.5h2M406 783.5h1M410 783.5h1M414 783.5h1M420 783.5h1M422 783.5h25M448 783.5h1M331 784.5h68M400 784.5h1M403 784.5h1M405 784.5h3M411 784.5h1M419 784.5h24M444 784.5h4M331 785.5h67M399 785.5h2M404 785.5h4M409 785.5h2M412 785.5h1M420 785.5h25M446 785.5h1M331 786.5h70M406 786.5h1M413 786.5h2M417 786.5h31M449 786.5h1M456 786.5h1M331 787.5h71M406 787.5h1M414 787.5h5M420 787.5h25M446 787.5h1M448 787.5h1M450 787.5h1M453 787.5h1M331 788.5h71M405 788.5h3M412 788.5h1M416 788.5h2M420 788.5h30M454 788.5h1M331 789.5h67M399 789.5h3M405 789.5h2M408 789.5h1M411 789.5h2M415 789.5h3M419 789.5h28M448 789.5h2M453 789.5h1M331 790.5h69M401 790.5h1M406 790.5h2M412 790.5h35M448 790.5h2M452 790.5h2M331 791.5h67M399 791.5h4M404 791.5h3M411 791.5h1M413 791.5h2M416 791.5h28M445 791.5h2M448 791.5h3M454 791.5h1M331 792.5h69M401 792.5h1M403 792.5h3M407 792.5h1M412 792.5h1M415 792.5h1M417 792.5h1M420 792.5h31M453 792.5h1M331 793.5h64M396 793.5h1M398 793.5h3M403 793.5h2M406 793.5h2M411 793.5h3M416 793.5h5M422 793.5h28M452 793.5h2M456 793.5h1M331 794.5h65M397 794.5h2M400 794.5h1M412 794.5h1M416 794.5h1M418 794.5h32M452 794.5h2M457 794.5h1M331 795.5h65M398 795.5h1M415 795.5h33M449 795.5h5M331 796.5h65M399 796.5h1M415 796.5h2M418 796.5h29M448 796.5h1M450 796.5h1M452 796.5h1M331 797.5h64M396 797.5h1M398 797.5h2M416 797.5h1M418 797.5h31M331 798.5h67M402 798.5h1M417 798.5h1M419 798.5h25M446 798.5h3M451 798.5h1M331 799.5h57M389 799.5h4M394 799.5h3M401 799.5h3M415 799.5h33M331 800.5h64M402 800.5h2M415 800.5h3M420 800.5h26M331 801.5h64M398 801.5h1M411 801.5h1M414 801.5h2M417 801.5h2M420 801.5h21M442 801.5h4M331 802.5h55M387 802.5h4M392 802.5h4M398 802.5h1M410 802.5h1M412 802.5h2M416 802.5h3M420 802.5h21M442 802.5h1M444 802.5h3M331 803.5h61M393 803.5h2M410 803.5h2M417 803.5h27M445 803.5h3M331 804.5h59M391 804.5h3M403 804.5h2M409 804.5h5M418 804.5h28M331 805.5h60M408 805.5h2M411 805.5h2M414 805.5h1M416 805.5h3M420 805.5h19M440 805.5h4M445 805.5h2M331 806.5h60M396 806.5h1M407 806.5h1M409 806.5h3M413 806.5h1M415 806.5h22M439 806.5h5M446 806.5h2M331 807.5h55M387 807.5h1M389 807.5h1M395 807.5h3M404 807.5h1M407 807.5h2M411 807.5h2M414 807.5h1M416 807.5h2M419 807.5h23M443 807.5h4M331 808.5h58M395 808.5h3M403 808.5h1M408 808.5h2M412 808.5h1M414 808.5h2M418 808.5h27M447 808.5h2M331 809.5h58M397 809.5h1M403 809.5h1M406 809.5h1M408 809.5h8M419 809.5h25M448 809.5h1M331 810.5h48M380 810.5h7M396 810.5h2M400 810.5h1M402 810.5h1M405 810.5h5M411 810.5h2M414 810.5h1M418 810.5h22M441 810.5h3M331 811.5h54M386 811.5h1M398 811.5h5M405 811.5h3M416 811.5h27M444 811.5h1M331 812.5h53M385 812.5h3M399 812.5h1M409 812.5h1M416 812.5h2M419 812.5h2M422 812.5h18M441 812.5h2M444 812.5h2M331 813.5h49M381 813.5h1M383 813.5h5M409 813.5h1M416 813.5h1M419 813.5h23M331 814.5h54M408 814.5h1M410 814.5h1M416 814.5h2M419 814.5h24M332 815.5h50M416 815.5h1M421 815.5h22" stroke="#050505" stroke-width="1" fill="none" shape-rendering="crispEdges"/>
<g transform="translate(0.3 0.28)">
<path d="M431 704.5h1M430 707.5h1M428 708.5h1M435 708.5h1M439 710.5h1M434 712.5h1M442 717.5h1M433 720.5h1M438 721.5h1M441 721.5h1M428 722.5h1M435 722.5h1M387 725.5h1M430 725.5h2M432 727.5h1M448 727.5h1M438 729.5h1M429 730.5h1M441 730.5h1M434 732.5h1M425 733.5h1M436 733.5h1M447 733.5h1M356 735.5h1M424 735.5h1M386 736.5h1M433 736.5h1M441 736.5h1M342 737.5h1M411 738.5h1M429 738.5h1M438 738.5h1M342 739.5h1M361 739.5h1M386 740.5h1M426 740.5h1M354 741.5h1M377 741.5h1M405 741.5h1M409 741.5h1M337 742.5h1M437 742.5h1M383 743.5h1M441 743.5h1M367 744.5h1M387 744.5h1M448 745.5h1M360 746.5h1M363 747.5h1M373 747.5h1M438 748.5h1M418 749.5h1M374 750.5h1M349 751.5h1M383 751.5h1M393 751.5h1M363 753.5h1M378 753.5h1M404 753.5h1M413 753.5h1M438 753.5h1M432 755.5h1M345 756.5h1M358 756.5h1M364 756.5h1M395 756.5h1M400 756.5h1M406 756.5h1M408 756.5h1M412 756.5h1M416 756.5h1M422 756.5h1M438 756.5h1M444 756.5h1M342 757.5h1M366 757.5h1M370 757.5h1M391 757.5h1M396 757.5h1M351 758.5h1M365 758.5h1M374 758.5h1M385 758.5h1M410 758.5h1M425 758.5h1M436 758.5h1M332 759.5h1M334 759.5h1M361 759.5h1M380 759.5h1M382 759.5h1M394 759.5h1M401 759.5h1M403 759.5h1M340 760.5h1M353 760.5h1M399 760.5h1M449 760.5h1M333 761.5h1M354 761.5h1M369 761.5h1M373 761.5h1M383 761.5h1M385 761.5h1M389 761.5h1M391 761.5h2M396 761.5h2M414 761.5h1M420 761.5h1M435 761.5h1M450 761.5h1M455 761.5h1M346 762.5h1M360 762.5h1M372 762.5h1M383 762.5h1M402 762.5h1M410 762.5h1M421 762.5h1M432 762.5h1M435 762.5h1M442 762.5h1M446 762.5h1M356 763.5h1M359 763.5h1M375 763.5h1M377 763.5h1M410 763.5h1M413 763.5h1M425 763.5h1M428 763.5h1M438 763.5h1M341 764.5h1M347 764.5h1M371 764.5h1M373 764.5h1M378 764.5h1M389 764.5h1M398 764.5h1M418 764.5h1M433 764.5h1M440 764.5h1M451 764.5h1M459 764.5h1M335 765.5h1M337 765.5h1M343 765.5h1M352 765.5h1M369 765.5h1M376 765.5h1M391 765.5h1M396 765.5h1M400 765.5h2M408 765.5h1M420 765.5h1M427 765.5h1M430 765.5h1M444 765.5h1M344 766.5h1M346 766.5h1M355 766.5h1M403 766.5h1M418 766.5h1M435 766.5h1M441 766.5h1M452 766.5h1M351 767.5h1M360 767.5h1M394 767.5h1M396 767.5h1M409 767.5h1M415 767.5h1M430 767.5h1M433 767.5h1M441 767.5h1M450 767.5h1M454 767.5h1M331 768.5h1M353 768.5h1M400 768.5h1M421 768.5h2M424 768.5h1M434 768.5h1M447 768.5h1M456 768.5h2M355 769.5h1M424 769.5h1M432 769.5h1M336 770.5h1M345 770.5h1M420 770.5h1M427 770.5h1M451 770.5h1M449 771.5h1M454 771.5h1M456 771.5h1M411 772.5h1M446 772.5h1M448 772.5h1M459 772.5h1M414 773.5h1M421 773.5h1M451 773.5h1M455 773.5h1M413 775.5h1M415 775.5h1M420 775.5h1M455 775.5h1M457 775.5h1M459 775.5h1M417 776.5h2M413 777.5h1M420 777.5h1M452 778.5h1M456 778.5h1M454 779.5h1M460 779.5h1M406 780.5h1M408 780.5h1M452 780.5h1M456 781.5h1M458 781.5h1M407 782.5h1M456 783.5h1M416 784.5h1M418 784.5h1M450 784.5h1M456 785.5h1M459 785.5h1M459 787.5h1M409 788.5h1M456 789.5h1M460 789.5h1M458 790.5h1M460 792.5h1M403 795.5h1M406 795.5h1M409 795.5h1M413 796.5h1M456 796.5h1M402 797.5h1M407 797.5h1M409 797.5h1M413 798.5h1M455 798.5h2M459 798.5h2M405 799.5h1M408 799.5h1M449 800.5h1M457 800.5h1M400 803.5h1M458 803.5h1M453 804.5h1M456 804.5h1M450 805.5h1M399 806.5h1M401 806.5h1M455 806.5h1M393 807.5h1M455 807.5h1M453 808.5h1M460 808.5h1M391 809.5h1M451 809.5h1M393 810.5h1M395 810.5h1M457 810.5h1M448 811.5h1M451 811.5h1M458 811.5h1M390 812.5h1M453 812.5h1M455 812.5h1M394 813.5h1M398 813.5h1M414 813.5h1M446 813.5h1M457 813.5h1M459 813.5h1M389 814.5h1M394 814.5h1M396 814.5h1M403 814.5h1M387 815.5h1M391 815.5h1M396 815.5h1M401 815.5h1M405 815.5h2M444 815.5h1M447 815.5h1M450 815.5h1M455 815.5h1M460 815.5h1" stroke="#3a3a3a" stroke-width="1" fill="none"/>
<path d="M338 762.5h1M387 762.5h1M389 762.5h1M413 762.5h1M453 762.5h2M337 763.5h2M368 763.5h1M433 763.5h1M453 763.5h1M356 764.5h1M367 764.5h2M381 764.5h1M386 764.5h2M393 764.5h1M428 764.5h1M339 765.5h1M357 765.5h1M364 765.5h1M384 765.5h1M392 765.5h1M394 765.5h1M397 765.5h1M411 765.5h1M437 765.5h1M339 766.5h1M349 766.5h1M351 766.5h1M357 766.5h2M363 766.5h1M365 766.5h1M372 766.5h1M374 766.5h1M386 766.5h1M389 766.5h1M394 766.5h1M411 766.5h2M431 766.5h1M437 766.5h2M336 767.5h1M341 767.5h1M347 767.5h1M349 767.5h1M363 767.5h2M368 767.5h2M376 767.5h1M383 767.5h1M388 767.5h1M391 767.5h1M436 767.5h1M336 768.5h1M339 768.5h1M341 768.5h1M343 768.5h1M346 768.5h1M349 768.5h1M357 768.5h2M362 768.5h1M385 768.5h1M390 768.5h1M408 768.5h1M436 768.5h1M453 768.5h1M338 769.5h2M343 769.5h1M346 769.5h1M349 769.5h1M351 769.5h1M357 769.5h1M364 769.5h2M392 769.5h1M394 769.5h1M396 769.5h2M401 769.5h1M405 769.5h2M409 769.5h2M414 769.5h1M436 769.5h5M442 769.5h1M444 769.5h1M447 769.5h1M452 769.5h1M333 770.5h2M348 770.5h2M363 770.5h1M384 770.5h1M386 770.5h1M398 770.5h2M402 770.5h1M409 770.5h1M417 770.5h1M429 770.5h1M432 770.5h1M435 770.5h1M445 770.5h3M453 770.5h1M331 771.5h1M333 771.5h1M404 771.5h1M406 771.5h1M415 771.5h1M418 771.5h1M424 771.5h2M427 771.5h1M429 771.5h1M438 771.5h1M440 771.5h1M335 772.5h1M339 772.5h1M345 772.5h1M397 772.5h2M407 772.5h1M409 772.5h1M416 772.5h1M418 772.5h1M420 772.5h1M427 772.5h1M429 772.5h1M418 773.5h1M423 773.5h1M425 773.5h1M427 773.5h1M444 773.5h1M446 773.5h1M452 773.5h2M401 774.5h1M410 774.5h2M423 774.5h1M429 774.5h1M444 774.5h1M446 774.5h1M456 774.5h1M401 775.5h1M414 775.5h1M423 775.5h1M425 775.5h1M427 775.5h1M452 775.5h2M403 776.5h1M410 776.5h2M423 776.5h1M410 777.5h2M423 777.5h1M425 777.5h1M452 777.5h1M406 778.5h1M408 778.5h1M415 778.5h1M423 778.5h1M457 778.5h3M403 779.5h1M408 779.5h1M413 779.5h1M420 779.5h1M405 780.5h1M410 780.5h1M420 780.5h1M450 780.5h1M453 780.5h1M449 781.5h1M409 782.5h1M452 782.5h2M456 782.5h1M458 782.5h1M411 783.5h1M413 783.5h1M452 783.5h1M454 783.5h1M459 783.5h1M409 784.5h1M415 784.5h1M448 784.5h2M454 784.5h1M459 784.5h1M403 785.5h1M413 785.5h1M454 785.5h1M402 786.5h1M408 786.5h2M411 786.5h1M448 786.5h1M450 786.5h4M402 787.5h1M455 787.5h3M404 788.5h1M411 788.5h1M413 788.5h1M451 788.5h1M453 788.5h1M458 788.5h1M403 789.5h1M451 789.5h1M403 790.5h1M408 790.5h1M410 790.5h1M451 790.5h1M454 790.5h1M457 790.5h1M408 791.5h1M456 791.5h1M410 792.5h1M451 792.5h1M454 792.5h1M456 792.5h2M402 793.5h1M408 793.5h1M414 793.5h1M459 793.5h1M406 794.5h1M454 794.5h1M456 794.5h1M458 794.5h1M397 795.5h1M400 795.5h3M411 795.5h1M414 795.5h1M456 795.5h1M411 796.5h1M400 797.5h1M408 797.5h1M411 797.5h1M450 797.5h1M452 797.5h1M398 798.5h1M404 798.5h1M411 798.5h2M415 798.5h1M449 798.5h1M451 799.5h2M398 800.5h3M447 800.5h2M452 800.5h1M455 800.5h2M402 801.5h1M404 801.5h1M406 801.5h5M412 801.5h1M452 801.5h1M455 801.5h1M397 802.5h1M405 802.5h1M414 802.5h1M448 802.5h2M451 802.5h1M395 803.5h1M397 803.5h1M399 803.5h1M402 803.5h2M405 803.5h1M450 803.5h2M406 804.5h1M414 804.5h1M416 804.5h1M448 804.5h1M452 804.5h1M457 804.5h1M392 805.5h1M395 805.5h2M403 805.5h1M406 805.5h1M449 805.5h1M400 806.5h1M403 806.5h1M405 806.5h1M448 806.5h1M394 808.5h1M398 808.5h1M402 808.5h1M404 808.5h1M406 808.5h1M417 808.5h1M446 808.5h1M449 808.5h1M389 809.5h1M401 809.5h1M449 809.5h1M453 809.5h1M389 810.5h1M392 810.5h1M416 810.5h1M447 810.5h1M452 810.5h1M388 811.5h1M397 811.5h1M403 811.5h1M410 811.5h1M412 811.5h1M414 811.5h1M445 811.5h1M391 812.5h2M401 812.5h1M403 812.5h1M405 812.5h1M414 812.5h1M392 813.5h1M408 813.5h1M410 813.5h1M443 813.5h1M454 813.5h1M388 814.5h1M392 814.5h1M455 814.5h1M331 815.5h1M383 815.5h1M408 815.5h2M411 815.5h5M417 815.5h1M419 815.5h1M443 815.5h1" stroke="#111" stroke-width="1" fill="none"/>
</g>
<rect x="330.8" y="685.9" width="130" height="130" fill="none" stroke="#222" stroke-width="1.15"/>
<line x1="412.5" y1="685.9" x2="412.5" y2="815.9" stroke="#222" stroke-width="0.85"/>
<line x1="330.8" y1="760.5" x2="460.8" y2="760.5" stroke="#222" stroke-width="0.85"/>
<line x1="332.3" y1="700.7" x2="409.1" y2="700.7" stroke="#333" stroke-width="0.65"/>
<line x1="371.6" y1="688.1" x2="371.6" y2="712.2" stroke="#222" stroke-width="0.7"/>
<text x="369.2" y="698.2" font-size="10" text-anchor="end" stroke="#000" stroke-width="0.28">0.05%</text>
<text x="407.6" y="698.2" font-size="10" text-anchor="end" font-weight="bold" stroke="#000" stroke-width="0.35">0.03%</text>
<text x="369.2" y="709.8" font-size="10" text-anchor="end" stroke="#000" stroke-width="0.28">81.90%</text>
<text x="407.4" y="709.8" font-size="10" text-anchor="end" stroke="#000" stroke-width="0.28">18.02%</text>
<path d="M340.58 815.9v1.7M330.8 806.12h-1.7M346.31 815.9v1.7M330.8 800.39h-1.7M350.37 815.9v1.7M330.8 796.33h-1.7M353.52 815.9v1.7M330.8 793.18h-1.7M356.09 815.9v1.7M330.8 790.61h-1.7M358.27 815.9v1.7M330.8 788.43h-1.7M360.15 815.9v1.7M330.8 786.55h-1.7M361.81 815.9v1.7M330.8 784.89h-1.7M373.08 815.9v1.7M330.8 773.62h-1.7M378.81 815.9v1.7M330.8 767.89h-1.7M382.87 815.9v1.7M330.8 763.83h-1.7M386.02 815.9v1.7M330.8 760.68h-1.7M388.59 815.9v1.7M330.8 758.11h-1.7M390.77 815.9v1.7M330.8 755.93h-1.7M392.65 815.9v1.7M330.8 754.05h-1.7M394.31 815.9v1.7M330.8 752.39h-1.7M405.58 815.9v1.7M330.8 741.12h-1.7M411.31 815.9v1.7M330.8 735.39h-1.7M415.37 815.9v1.7M330.8 731.33h-1.7M418.52 815.9v1.7M330.8 728.18h-1.7M421.09 815.9v1.7M330.8 725.61h-1.7M423.27 815.9v1.7M330.8 723.43h-1.7M425.15 815.9v1.7M330.8 721.55h-1.7M426.81 815.9v1.7M330.8 719.89h-1.7M438.08 815.9v1.7M330.8 708.62h-1.7M443.81 815.9v1.7M330.8 702.89h-1.7M447.87 815.9v1.7M330.8 698.83h-1.7M451.02 815.9v1.7M330.8 695.68h-1.7M453.59 815.9v1.7M330.8 693.11h-1.7M455.77 815.9v1.7M330.8 690.93h-1.7M457.65 815.9v1.7M330.8 689.05h-1.7M459.31 815.9v1.7M330.8 687.39h-1.7" stroke="#111" stroke-width="0.75" fill="none"/>
<line x1="330.8" y1="815.9" x2="330.8" y2="818.3" stroke="#222" stroke-width="0.8"/>
<line x1="328.4" y1="815.9" x2="330.8" y2="815.9" stroke="#222" stroke-width="0.8"/>
<text x="333.1" y="827" font-size="6.1" text-anchor="end" stroke="#000" stroke-width="0.38">10</text>
<text x="333.4" y="823.5" font-size="5" stroke="#000" stroke-width="0.38">0</text>
<text transform="translate(325.9 814.9) rotate(-90) scale(0.74 1)" font-size="6.4" text-anchor="end" stroke="#000" stroke-width="0.38">10</text>
<text transform="translate(321.9 813.2) rotate(-90) scale(0.8 1)" font-size="5.2" stroke="#000" stroke-width="0.38">0</text>
<line x1="363.3" y1="815.9" x2="363.3" y2="818.3" stroke="#222" stroke-width="0.8"/>
<line x1="328.4" y1="783.4" x2="330.8" y2="783.4" stroke="#222" stroke-width="0.8"/>
<text x="365.6" y="827" font-size="6.1" text-anchor="end" stroke="#000" stroke-width="0.38">10</text>
<text x="365.9" y="823.5" font-size="5" stroke="#000" stroke-width="0.38">1</text>
<text transform="translate(325.9 782.4) rotate(-90) scale(0.74 1)" font-size="6.4" text-anchor="end" stroke="#000" stroke-width="0.38">10</text>
<text transform="translate(321.9 780.7) rotate(-90) scale(0.8 1)" font-size="5.2" stroke="#000" stroke-width="0.38">1</text>
<line x1="395.8" y1="815.9" x2="395.8" y2="818.3" stroke="#222" stroke-width="0.8"/>
<line x1="328.4" y1="750.9" x2="330.8" y2="750.9" stroke="#222" stroke-width="0.8"/>
<text x="398.1" y="827" font-size="6.1" text-anchor="end" stroke="#000" stroke-width="0.38">10</text>
<text x="398.4" y="823.5" font-size="5" stroke="#000" stroke-width="0.38">2</text>
<text transform="translate(325.9 749.9) rotate(-90) scale(0.74 1)" font-size="6.4" text-anchor="end" stroke="#000" stroke-width="0.38">10</text>
<text transform="translate(321.9 748.2) rotate(-90) scale(0.8 1)" font-size="5.2" stroke="#000" stroke-width="0.38">2</text>
<line x1="428.3" y1="815.9" x2="428.3" y2="818.3" stroke="#222" stroke-width="0.8"/>
<line x1="328.4" y1="718.4" x2="330.8" y2="718.4" stroke="#222" stroke-width="0.8"/>
<text x="430.6" y="827" font-size="6.1" text-anchor="end" stroke="#000" stroke-width="0.38">10</text>
<text x="430.9" y="823.5" font-size="5" stroke="#000" stroke-width="0.38">3</text>
<text transform="translate(325.9 717.4) rotate(-90) scale(0.74 1)" font-size="6.4" text-anchor="end" stroke="#000" stroke-width="0.38">10</text>
<text transform="translate(321.9 715.7) rotate(-90) scale(0.8 1)" font-size="5.2" stroke="#000" stroke-width="0.38">3</text>
<line x1="460.8" y1="815.9" x2="460.8" y2="818.3" stroke="#222" stroke-width="0.8"/>
<line x1="328.4" y1="685.9" x2="330.8" y2="685.9" stroke="#222" stroke-width="0.8"/>
<text x="463.1" y="827" font-size="6.1" text-anchor="end" stroke="#000" stroke-width="0.38">10</text>
<text x="463.4" y="823.5" font-size="5" stroke="#000" stroke-width="0.38">4</text>
<text transform="translate(325.9 684.9) rotate(-90) scale(0.74 1)" font-size="6.4" text-anchor="end" stroke="#000" stroke-width="0.38">10</text>
<text transform="translate(321.9 683.2) rotate(-90) scale(0.8 1)" font-size="5.2" stroke="#000" stroke-width="0.38">4</text>
<text x="395.2" y="833.5" font-size="5.9" text-anchor="middle" stroke="#000" stroke-width="0.38">CyChrome-CD4</text>
<text transform="translate(317.4 752.9) rotate(-90)" font-size="6.1" text-anchor="middle" stroke="#000" stroke-width="0.38">FITC-IFNgamma</text>
<path d="M260 925.5h2M260 926.5h2M223 927.5h1M249 927.5h3M222 928.5h1M230 928.5h5M248 928.5h2M251 928.5h2M264 928.5h2M221 929.5h3M230 929.5h6M237 929.5h3M242 929.5h3M246 929.5h1M248 929.5h4M253 929.5h2M256 929.5h2M264 929.5h2M218 930.5h1M220 930.5h4M225 930.5h2M230 930.5h2M234 930.5h2M238 930.5h1M240 930.5h8M249 930.5h3M253 930.5h2M256 930.5h3M261 930.5h1M264 930.5h1M266 930.5h1M209 931.5h1M214 931.5h1M219 931.5h3M223 931.5h5M230 931.5h2M240 931.5h9M251 931.5h6M259 931.5h3M263 931.5h1M265 931.5h2M268 931.5h2M208 932.5h1M210 932.5h2M213 932.5h4M219 932.5h2M222 932.5h3M226 932.5h2M230 932.5h4M235 932.5h1M237 932.5h5M245 932.5h3M250 932.5h5M256 932.5h4M261 932.5h5M267 932.5h3M278 932.5h1M209 933.5h1M211 933.5h2M214 933.5h2M219 933.5h1M221 933.5h3M225 933.5h1M227 933.5h2M231 933.5h8M240 933.5h9M250 933.5h2M253 933.5h5M259 933.5h1M261 933.5h5M268 933.5h2M271 933.5h3M277 933.5h2M199 934.5h1M204 934.5h2M209 934.5h3M214 934.5h3M220 934.5h17M238 934.5h6M245 934.5h20M266 934.5h9M179 935.5h1M188 935.5h2M193 935.5h1M199 935.5h1M204 935.5h4M209 935.5h2M212 935.5h19M232 935.5h10M243 935.5h22M266 935.5h6M274 935.5h1M178 936.5h2M186 936.5h3M192 936.5h2M198 936.5h2M202 936.5h5M208 936.5h11M220 936.5h46M267 936.5h7M275 936.5h2M178 937.5h1M180 937.5h1M187 937.5h1M192 937.5h1M194 937.5h1M196 937.5h2M199 937.5h3M203 937.5h17M221 937.5h44M266 937.5h10M277 937.5h2M280 937.5h2M169 938.5h1M172 938.5h2M179 938.5h1M181 938.5h1M187 938.5h4M193 938.5h5M199 938.5h2M202 938.5h67M270 938.5h3M274 938.5h7M282 938.5h1M286 938.5h1M167 939.5h1M172 939.5h3M179 939.5h4M185 939.5h2M188 939.5h16M206 939.5h74M283 939.5h1M166 940.5h1M169 940.5h1M173 940.5h3M177 940.5h11M189 940.5h10M200 940.5h81M284 940.5h1M166 941.5h6M173 941.5h3M177 941.5h2M181 941.5h11M193 941.5h9M203 941.5h78M166 942.5h115M288 942.5h1M166 943.5h5M172 943.5h108M281 943.5h2M286 943.5h2M166 944.5h117M286 944.5h2M166 945.5h1M168 945.5h1M170 945.5h110M281 945.5h3M166 946.5h118M166 947.5h118M166 948.5h119M166 949.5h119M166 950.5h120M166 951.5h119M286 951.5h1M166 952.5h122M166 953.5h118M285 953.5h2M288 953.5h1M166 954.5h116M283 954.5h2M287 954.5h3M166 955.5h120M287 955.5h3M166 956.5h122M166 957.5h122M166 958.5h122M166 959.5h122M166 960.5h122M291 960.5h3M166 961.5h123M291 961.5h3M166 962.5h121M288 962.5h1M290 962.5h1M166 963.5h124M166 964.5h118M285 964.5h2M288 964.5h1M166 965.5h80M247 965.5h40M288 965.5h1M166 966.5h51M218 966.5h9M228 966.5h61M166 967.5h54M221 967.5h67M166 968.5h65M233 968.5h2M236 968.5h53M166 969.5h55M222 969.5h5M228 969.5h58M287 969.5h2M166 970.5h59M226 970.5h4M231 970.5h1M233 970.5h2M238 970.5h6M245 970.5h38M284 970.5h2M289 970.5h2M166 971.5h55M222 971.5h3M226 971.5h3M230 971.5h1M232 971.5h3M237 971.5h42M280 971.5h6M287 971.5h1M289 971.5h1M166 972.5h52M219 972.5h7M227 972.5h1M229 972.5h1M233 972.5h1M237 972.5h1M239 972.5h1M242 972.5h47M166 973.5h57M225 973.5h1M227 973.5h6M237 973.5h1M243 973.5h1M246 973.5h36M283 973.5h5M166 974.5h47M214 974.5h14M229 974.5h5M238 974.5h1M242 974.5h2M246 974.5h1M249 974.5h34M284 974.5h2M287 974.5h1M166 975.5h55M222 975.5h1M225 975.5h5M231 975.5h1M234 975.5h1M237 975.5h2M241 975.5h2M247 975.5h8M256 975.5h31M288 975.5h1M166 976.5h51M218 976.5h1M221 976.5h5M228 976.5h2M231 976.5h3M236 976.5h2M241 976.5h3M250 976.5h2M253 976.5h2M256 976.5h27M284 976.5h2M166 977.5h51M219 977.5h3M223 977.5h2M232 977.5h2M237 977.5h1M241 977.5h2M244 977.5h1M251 977.5h3M255 977.5h32M166 978.5h50M217 978.5h3M221 978.5h4M232 978.5h1M237 978.5h2M242 978.5h2M247 978.5h1M251 978.5h35M166 979.5h51M218 979.5h1M224 979.5h4M230 979.5h2M233 979.5h1M237 979.5h2M241 979.5h1M243 979.5h1M246 979.5h1M248 979.5h1M251 979.5h3M256 979.5h31M167 980.5h47M215 980.5h1M227 980.5h1M231 980.5h1M252 980.5h2M256 980.5h30" stroke="#050505" stroke-width="1" fill="none" shape-rendering="crispEdges"/>
<g transform="translate(0.3 0.28)">
<path d="M264 886.5h1M286 894.5h1M262 896.5h1M194 903.5h1M182 904.5h1M265 904.5h1M189 906.5h1M201 906.5h1M228 906.5h1M272 907.5h1M200 908.5h1M206 908.5h1M267 908.5h1M278 908.5h1M204 909.5h1M289 909.5h1M291 910.5h1M239 911.5h1M272 911.5h1M278 911.5h1M169 912.5h1M191 912.5h1M236 912.5h1M221 913.5h1M223 913.5h1M233 913.5h1M275 913.5h1M278 913.5h1M195 914.5h1M245 914.5h1M170 915.5h1M206 915.5h1M221 916.5h1M276 916.5h1M293 916.5h1M184 917.5h1M209 917.5h1M284 917.5h1M204 919.5h1M227 919.5h1M272 919.5h1M186 920.5h1M214 920.5h1M245 920.5h2M257 920.5h1M266 920.5h1M241 921.5h1M254 921.5h1M270 921.5h1M212 922.5h1M249 922.5h1M265 922.5h1M279 922.5h1M247 923.5h1M253 923.5h1M171 924.5h1M189 924.5h1M237 924.5h1M246 924.5h1M258 924.5h1M270 924.5h1M206 925.5h1M225 925.5h1M235 925.5h1M242 925.5h1M251 925.5h1M257 925.5h1M170 926.5h1M198 926.5h1M209 926.5h1M211 926.5h1M228 926.5h1M235 926.5h1M245 926.5h1M248 926.5h1M253 926.5h1M269 926.5h1M282 926.5h1M192 927.5h1M199 927.5h1M201 927.5h1M206 927.5h1M226 927.5h1M242 927.5h1M277 927.5h1M176 928.5h1M179 928.5h1M187 928.5h1M191 928.5h1M212 928.5h1M271 928.5h1M277 928.5h1M279 928.5h1M171 929.5h2M181 929.5h1M183 929.5h1M189 929.5h1M197 929.5h1M214 929.5h1M260 929.5h1M262 929.5h1M268 929.5h1M271 929.5h1M281 929.5h1M285 929.5h1M193 930.5h2M274 930.5h1M276 930.5h1M282 930.5h1M291 930.5h1M178 931.5h1M181 931.5h1M189 931.5h1M196 931.5h1M202 931.5h1M204 931.5h1M271 931.5h1M279 931.5h1M176 932.5h1M179 932.5h1M193 932.5h1M196 932.5h1M202 932.5h1M287 932.5h1M294 932.5h1M281 933.5h1M285 933.5h1M166 934.5h1M181 934.5h1M187 934.5h1M194 934.5h1M202 934.5h1M294 934.5h1M175 935.5h1M285 935.5h1M183 936.5h1M183 937.5h1M185 937.5h1M285 937.5h1M290 938.5h1M291 941.5h1M294 941.5h2M284 943.5h1M291 943.5h1M289 946.5h1M294 946.5h1M291 947.5h1M293 947.5h1M292 949.5h2M295 950.5h1M290 951.5h1M293 951.5h1M291 953.5h1M294 953.5h1M294 957.5h1M289 958.5h1M294 959.5h1M295 961.5h1M295 966.5h1M290 967.5h1M292 968.5h1M292 972.5h1M292 974.5h1M294 974.5h1M239 976.5h1M287 977.5h1M290 977.5h1M291 979.5h1M223 980.5h1M245 980.5h1M287 980.5h1M289 980.5h1" stroke="#3a3a3a" stroke-width="1" fill="none"/>
<path d="M261 924.5h1M241 925.5h1M222 926.5h3M240 926.5h1M251 926.5h1M208 927.5h1M229 927.5h2M233 927.5h1M241 927.5h1M254 927.5h1M261 927.5h1M265 927.5h1M204 928.5h2M208 928.5h1M216 928.5h1M220 928.5h1M224 928.5h1M235 928.5h1M237 928.5h1M245 928.5h2M254 928.5h1M256 928.5h1M200 929.5h2M203 929.5h2M207 929.5h1M210 929.5h2M216 929.5h2M219 929.5h1M226 929.5h1M240 929.5h1M258 929.5h1M266 929.5h1M191 930.5h1M200 930.5h1M208 930.5h1M210 930.5h1M215 930.5h1M229 930.5h1M237 930.5h1M269 930.5h1M182 931.5h2M190 931.5h2M199 931.5h1M207 931.5h1M212 931.5h1M217 931.5h1M233 931.5h1M235 931.5h1M275 931.5h1M172 932.5h1M183 932.5h2M199 932.5h1M207 932.5h1M229 932.5h1M271 932.5h1M276 932.5h1M171 933.5h2M177 933.5h1M185 933.5h1M198 933.5h1M205 933.5h1M207 933.5h1M217 933.5h2M276 933.5h1M279 933.5h1M283 933.5h2M168 934.5h1M171 934.5h1M178 934.5h1M180 934.5h1M185 934.5h1M189 934.5h1M198 934.5h1M200 934.5h1M207 934.5h1M275 934.5h1M279 934.5h1M283 934.5h1M168 935.5h2M172 935.5h1M185 935.5h1M167 936.5h1M173 936.5h1M177 936.5h1M180 936.5h1M189 936.5h1M194 936.5h1M201 936.5h1M277 936.5h1M279 936.5h1M281 936.5h1M166 937.5h1M168 937.5h3M173 937.5h1M191 937.5h1M283 937.5h1M166 938.5h1M177 938.5h1M283 938.5h1M287 938.5h1M166 939.5h1M168 939.5h1M175 939.5h1M177 939.5h1M285 939.5h1M287 939.5h1M171 940.5h1M283 940.5h1M289 940.5h1M283 941.5h1M287 941.5h1M289 941.5h2M283 942.5h1M286 942.5h1M288 943.5h1M290 944.5h1M284 945.5h1M286 945.5h1M291 945.5h1M291 946.5h1M285 947.5h1M286 948.5h4M286 949.5h1M289 949.5h1M293 952.5h1M292 953.5h1M289 956.5h1M291 956.5h2M291 957.5h1M293 957.5h1M290 959.5h1M292 959.5h1M289 961.5h1M294 961.5h1M291 963.5h1M290 964.5h1M289 966.5h1M290 969.5h2M287 970.5h1M231 971.5h1M290 971.5h1M234 972.5h1M236 972.5h1M239 973.5h3M234 974.5h3M289 974.5h2M244 975.5h1M246 975.5h1M287 975.5h1M290 975.5h1M293 975.5h1M235 976.5h1M244 976.5h1M247 976.5h1M289 976.5h1M226 977.5h3M230 977.5h1M230 978.5h1M234 978.5h1M239 978.5h1M244 978.5h1M246 978.5h1M248 978.5h1M220 979.5h1M228 979.5h1M235 979.5h1M240 979.5h1M249 979.5h1M290 979.5h1M166 980.5h1M216 980.5h1M218 980.5h2M225 980.5h1M228 980.5h1M230 980.5h1M232 980.5h1M234 980.5h2M237 980.5h2M241 980.5h2M247 980.5h1M251 980.5h1M254 980.5h2" stroke="#111" stroke-width="1" fill="none"/>
</g>
<rect x="166.4" y="850.8" width="130" height="130" fill="none" stroke="#222" stroke-width="1.15"/>
<line x1="247.5" y1="850.8" x2="247.5" y2="980.8" stroke="#222" stroke-width="0.85"/>
<line x1="166.4" y1="925.5" x2="296.4" y2="925.5" stroke="#222" stroke-width="0.85"/>
<line x1="167.9" y1="865.6" x2="244.7" y2="865.6" stroke="#333" stroke-width="0.65"/>
<line x1="207.2" y1="853" x2="207.2" y2="877.1" stroke="#222" stroke-width="0.7"/>
<text x="204.8" y="863.1" font-size="10" text-anchor="end" stroke="#000" stroke-width="0.28">0.01%</text>
<text x="243.2" y="863.1" font-size="10" text-anchor="end" font-weight="bold" stroke="#000" stroke-width="0.35">0.01%</text>
<text x="204.8" y="874.7" font-size="10" text-anchor="end" stroke="#000" stroke-width="0.28">89.58%</text>
<text x="243" y="874.7" font-size="10" text-anchor="end" stroke="#000" stroke-width="0.28">10.40%</text>
<path d="M176.18 980.8v1.7M166.4 971.02h-1.7M181.91 980.8v1.7M166.4 965.29h-1.7M185.97 980.8v1.7M166.4 961.23h-1.7M189.12 980.8v1.7M166.4 958.08h-1.7M191.69 980.8v1.7M166.4 955.51h-1.7M193.87 980.8v1.7M166.4 953.33h-1.7M195.75 980.8v1.7M166.4 951.45h-1.7M197.41 980.8v1.7M166.4 949.79h-1.7M208.68 980.8v1.7M166.4 938.52h-1.7M214.41 980.8v1.7M166.4 932.79h-1.7M218.47 980.8v1.7M166.4 928.73h-1.7M221.62 980.8v1.7M166.4 925.58h-1.7M224.19 980.8v1.7M166.4 923.01h-1.7M226.37 980.8v1.7M166.4 920.83h-1.7M228.25 980.8v1.7M166.4 918.95h-1.7M229.91 980.8v1.7M166.4 917.29h-1.7M241.18 980.8v1.7M166.4 906.02h-1.7M246.91 980.8v1.7M166.4 900.29h-1.7M250.97 980.8v1.7M166.4 896.23h-1.7M254.12 980.8v1.7M166.4 893.08h-1.7M256.69 980.8v1.7M166.4 890.51h-1.7M258.87 980.8v1.7M166.4 888.33h-1.7M260.75 980.8v1.7M166.4 886.45h-1.7M262.41 980.8v1.7M166.4 884.79h-1.7M273.68 980.8v1.7M166.4 873.52h-1.7M279.41 980.8v1.7M166.4 867.79h-1.7M283.47 980.8v1.7M166.4 863.73h-1.7M286.62 980.8v1.7M166.4 860.58h-1.7M289.19 980.8v1.7M166.4 858.01h-1.7M291.37 980.8v1.7M166.4 855.83h-1.7M293.25 980.8v1.7M166.4 853.95h-1.7M294.91 980.8v1.7M166.4 852.29h-1.7" stroke="#111" stroke-width="0.75" fill="none"/>
<line x1="166.4" y1="980.8" x2="166.4" y2="983.2" stroke="#222" stroke-width="0.8"/>
<line x1="164" y1="980.8" x2="166.4" y2="980.8" stroke="#222" stroke-width="0.8"/>
<text x="168.7" y="991.9" font-size="6.1" text-anchor="end" stroke="#000" stroke-width="0.38">10</text>
<text x="169" y="988.4" font-size="5" stroke="#000" stroke-width="0.38">0</text>
<text transform="translate(161.5 979.8) rotate(-90) scale(0.74 1)" font-size="6.4" text-anchor="end" stroke="#000" stroke-width="0.38">10</text>
<text transform="translate(157.5 978.1) rotate(-90) scale(0.8 1)" font-size="5.2" stroke="#000" stroke-width="0.38">0</text>
<line x1="198.9" y1="980.8" x2="198.9" y2="983.2" stroke="#222" stroke-width="0.8"/>
<line x1="164" y1="948.3" x2="166.4" y2="948.3" stroke="#222" stroke-width="0.8"/>
<text x="201.2" y="991.9" font-size="6.1" text-anchor="end" stroke="#000" stroke-width="0.38">10</text>
<text x="201.5" y="988.4" font-size="5" stroke="#000" stroke-width="0.38">1</text>
<text transform="translate(161.5 947.3) rotate(-90) scale(0.74 1)" font-size="6.4" text-anchor="end" stroke="#000" stroke-width="0.38">10</text>
<text transform="translate(157.5 945.6) rotate(-90) scale(0.8 1)" font-size="5.2" stroke="#000" stroke-width="0.38">1</text>
<line x1="231.4" y1="980.8" x2="231.4" y2="983.2" stroke="#222" stroke-width="0.8"/>
<line x1="164" y1="915.8" x2="166.4" y2="915.8" stroke="#222" stroke-width="0.8"/>
<text x="233.7" y="991.9" font-size="6.1" text-anchor="end" stroke="#000" stroke-width="0.38">10</text>
<text x="234" y="988.4" font-size="5" stroke="#000" stroke-width="0.38">2</text>
<text transform="translate(161.5 914.8) rotate(-90) scale(0.74 1)" font-size="6.4" text-anchor="end" stroke="#000" stroke-width="0.38">10</text>
<text transform="translate(157.5 913.1) rotate(-90) scale(0.8 1)" font-size="5.2" stroke="#000" stroke-width="0.38">2</text>
<line x1="263.9" y1="980.8" x2="263.9" y2="983.2" stroke="#222" stroke-width="0.8"/>
<line x1="164" y1="883.3" x2="166.4" y2="883.3" stroke="#222" stroke-width="0.8"/>
<text x="266.2" y="991.9" font-size="6.1" text-anchor="end" stroke="#000" stroke-width="0.38">10</text>
<text x="266.5" y="988.4" font-size="5" stroke="#000" stroke-width="0.38">3</text>
<text transform="translate(161.5 882.3) rotate(-90) scale(0.74 1)" font-size="6.4" text-anchor="end" stroke="#000" stroke-width="0.38">10</text>
<text transform="translate(157.5 880.6) rotate(-90) scale(0.8 1)" font-size="5.2" stroke="#000" stroke-width="0.38">3</text>
<line x1="296.4" y1="980.8" x2="296.4" y2="983.2" stroke="#222" stroke-width="0.8"/>
<line x1="164" y1="850.8" x2="166.4" y2="850.8" stroke="#222" stroke-width="0.8"/>
<text x="298.7" y="991.9" font-size="6.1" text-anchor="end" stroke="#000" stroke-width="0.38">10</text>
<text x="299" y="988.4" font-size="5" stroke="#000" stroke-width="0.38">4</text>
<text transform="translate(161.5 849.8) rotate(-90) scale(0.74 1)" font-size="6.4" text-anchor="end" stroke="#000" stroke-width="0.38">10</text>
<text transform="translate(157.5 848.1) rotate(-90) scale(0.8 1)" font-size="5.2" stroke="#000" stroke-width="0.38">4</text>
<text x="230.8" y="998.4" font-size="5.9" text-anchor="middle" stroke="#000" stroke-width="0.38">CyChrome-CD4</text>
<text transform="translate(153 917.8) rotate(-90)" font-size="6.1" text-anchor="middle" stroke="#000" stroke-width="0.38">FITC-IFNgamma</text>
<path d="M432 874.5h1M438 878.5h2M437 879.5h3M424 880.5h1M433 880.5h1M437 880.5h1M424 881.5h2M432 881.5h2M435 896.5h1M431 905.5h2M432 906.5h2M433 907.5h1M429 908.5h1M429 909.5h1M438 910.5h1M432 912.5h2M431 913.5h2M431 914.5h1M436 914.5h1M438 914.5h1M437 915.5h2M438 916.5h1M438 917.5h1M440 919.5h3M442 920.5h1M434 921.5h1M382 922.5h1M432 922.5h1M435 922.5h1M382 923.5h1M431 923.5h2M435 923.5h2M361 924.5h2M431 924.5h2M362 925.5h2M406 925.5h1M431 925.5h3M361 926.5h2M364 926.5h1M405 926.5h2M431 926.5h2M434 926.5h1M361 927.5h2M385 927.5h1M401 927.5h1M432 927.5h4M384 928.5h1M400 928.5h4M412 928.5h2M429 928.5h3M434 928.5h1M436 928.5h1M398 929.5h5M412 929.5h5M420 929.5h3M428 929.5h4M435 929.5h3M440 929.5h2M448 929.5h1M374 930.5h1M382 930.5h2M388 930.5h2M396 930.5h4M401 930.5h3M405 930.5h1M407 930.5h2M410 930.5h2M414 930.5h12M428 930.5h1M430 930.5h1M434 930.5h1M436 930.5h2M439 930.5h4M373 931.5h1M375 931.5h1M377 931.5h1M382 931.5h2M387 931.5h4M395 931.5h3M399 931.5h1M401 931.5h2M404 931.5h3M408 931.5h5M415 931.5h1M417 931.5h1M420 931.5h1M422 931.5h3M426 931.5h6M434 931.5h3M438 931.5h8M366 932.5h1M372 932.5h1M376 932.5h1M378 932.5h1M380 932.5h2M383 932.5h1M387 932.5h3M391 932.5h3M395 932.5h6M402 932.5h1M405 932.5h1M407 932.5h7M415 932.5h4M420 932.5h18M440 932.5h1M443 932.5h2M358 933.5h2M366 933.5h4M371 933.5h3M377 933.5h6M384 933.5h1M386 933.5h7M394 933.5h2M399 933.5h24M424 933.5h12M347 934.5h3M351 934.5h2M358 934.5h2M361 934.5h2M366 934.5h1M368 934.5h1M370 934.5h19M390 934.5h7M398 934.5h1M400 934.5h1M402 934.5h2M405 934.5h19M425 934.5h11M437 934.5h2M446 934.5h2M348 935.5h1M350 935.5h3M356 935.5h4M361 935.5h2M364 935.5h4M370 935.5h6M377 935.5h3M381 935.5h10M392 935.5h25M418 935.5h4M423 935.5h12M436 935.5h1M438 935.5h3M446 935.5h1M448 935.5h2M350 936.5h1M355 936.5h3M360 936.5h1M362 936.5h5M369 936.5h6M376 936.5h59M436 936.5h6M444 936.5h1M345 937.5h1M349 937.5h2M353 937.5h3M357 937.5h4M362 937.5h9M372 937.5h3M376 937.5h66M443 937.5h3M341 938.5h1M346 938.5h1M348 938.5h1M350 938.5h10M361 938.5h1M363 938.5h2M366 938.5h69M436 938.5h6M443 938.5h2M446 938.5h1M450 938.5h1M336 939.5h1M342 939.5h1M345 939.5h3M349 939.5h8M358 939.5h33M392 939.5h55M448 939.5h3M337 940.5h1M340 940.5h2M343 940.5h9M353 940.5h30M384 940.5h61M446 940.5h2M449 940.5h1M336 941.5h1M339 941.5h24M364 941.5h85M335 942.5h2M338 942.5h3M342 942.5h17M360 942.5h84M445 942.5h5M451 942.5h1M334 943.5h10M345 943.5h8M354 943.5h95M452 943.5h1M332 944.5h118M452 944.5h1M331 945.5h120M331 946.5h4M336 946.5h114M331 947.5h114M446 947.5h3M453 947.5h1M331 948.5h118M331 949.5h118M452 949.5h1M331 950.5h123M331 951.5h119M451 951.5h4M331 952.5h120M454 952.5h1M331 953.5h121M453 953.5h3M331 954.5h123M455 954.5h1M331 955.5h118M451 955.5h4M456 955.5h1M331 956.5h121M454 956.5h2M331 957.5h122M454 957.5h2M331 958.5h123M331 959.5h120M452 959.5h1M456 959.5h1M331 960.5h117M449 960.5h3M331 961.5h120M331 962.5h116M448 962.5h4M331 963.5h81M413 963.5h40M454 963.5h1M456 963.5h1M331 964.5h67M399 964.5h5M405 964.5h46M452 964.5h2M331 965.5h71M403 965.5h10M414 965.5h39M331 966.5h120M452 966.5h1M331 967.5h78M410 967.5h44M331 968.5h67M399 968.5h2M405 968.5h10M416 968.5h6M423 968.5h28M452 968.5h1M331 969.5h68M407 969.5h5M413 969.5h5M419 969.5h33M331 970.5h68M408 970.5h2M411 970.5h10M422 970.5h21M444 970.5h10M331 971.5h67M401 971.5h1M407 971.5h9M418 971.5h4M423 971.5h31M331 972.5h59M391 972.5h1M393 972.5h1M395 972.5h1M397 972.5h1M401 972.5h2M404 972.5h2M408 972.5h2M412 972.5h2M415 972.5h37M331 973.5h59M396 973.5h6M403 973.5h3M416 973.5h1M418 973.5h1M420 973.5h30M451 973.5h1M331 974.5h58M396 974.5h2M399 974.5h7M409 974.5h2M413 974.5h1M417 974.5h2M420 974.5h29M450 974.5h3M331 975.5h60M392 975.5h7M401 975.5h2M404 975.5h2M409 975.5h2M418 975.5h34M331 976.5h66M398 976.5h6M407 976.5h1M410 976.5h1M418 976.5h31M450 976.5h1M331 977.5h57M389 977.5h8M398 977.5h2M401 977.5h3M408 977.5h5M420 977.5h2M423 977.5h27M331 978.5h55M387 978.5h9M398 978.5h3M402 978.5h3M409 978.5h1M412 978.5h2M420 978.5h1M422 978.5h2M425 978.5h21M447 978.5h2M331 979.5h64M400 979.5h1M402 979.5h2M421 979.5h29M332 980.5h56M389 980.5h3M421 980.5h28" stroke="#050505" stroke-width="1" fill="none" shape-rendering="crispEdges"/>
<g transform="translate(0.3 0.28)">
<path d="M429 858.5h1M426 859.5h2M436 859.5h1M439 859.5h1M423 860.5h1M425 861.5h1M435 861.5h1M427 862.5h1M425 863.5h1M435 864.5h1M431 865.5h1M423 866.5h1M435 866.5h1M443 866.5h1M428 867.5h1M430 867.5h2M433 868.5h1M435 869.5h1M440 869.5h1M443 870.5h1M435 871.5h1M441 871.5h1M424 872.5h1M427 872.5h1M438 872.5h1M424 873.5h1M444 873.5h2M426 874.5h1M417 875.5h1M423 875.5h2M428 875.5h1M440 875.5h1M417 876.5h1M422 877.5h1M426 877.5h1M429 877.5h1M431 877.5h1M441 877.5h1M425 878.5h1M416 879.5h1M423 879.5h1M432 879.5h1M427 880.5h1M429 880.5h1M442 880.5h1M346 881.5h1M395 881.5h1M431 881.5h1M437 882.5h1M441 882.5h1M446 882.5h1M393 883.5h1M408 883.5h1M421 883.5h1M431 883.5h1M453 883.5h1M423 884.5h1M428 884.5h1M438 884.5h1M443 884.5h1M387 885.5h1M435 885.5h1M441 885.5h1M342 886.5h1M360 886.5h1M391 886.5h1M429 886.5h1M337 887.5h1M347 887.5h1M405 887.5h1M434 887.5h1M388 888.5h1M390 888.5h1M420 888.5h1M427 888.5h1M441 888.5h1M362 889.5h1M374 889.5h1M391 889.5h1M419 889.5h1M433 889.5h1M437 889.5h1M440 889.5h1M360 890.5h1M375 890.5h1M377 890.5h1M431 890.5h1M437 890.5h1M445 890.5h1M351 891.5h1M357 891.5h1M408 891.5h1M433 891.5h1M447 891.5h1M350 892.5h1M424 892.5h1M428 892.5h1M435 892.5h1M441 892.5h1M334 893.5h1M340 893.5h1M359 893.5h1M371 893.5h1M419 893.5h1M439 893.5h1M338 894.5h1M351 894.5h1M355 894.5h1M424 894.5h1M426 894.5h1M430 894.5h1M435 894.5h2M441 894.5h1M350 895.5h1M368 895.5h1M394 895.5h1M443 895.5h2M458 895.5h1M430 896.5h1M337 897.5h1M377 897.5h1M393 897.5h1M402 897.5h1M404 897.5h1M427 897.5h1M443 897.5h1M343 898.5h1M347 898.5h1M390 898.5h1M426 898.5h1M431 898.5h1M448 898.5h1M337 899.5h1M365 899.5h1M411 899.5h1M441 899.5h1M341 900.5h1M363 900.5h1M388 900.5h1M402 900.5h1M429 900.5h1M437 900.5h1M368 901.5h1M431 901.5h1M444 901.5h1M448 901.5h1M336 902.5h1M339 902.5h1M344 902.5h1M351 902.5h1M382 902.5h1M390 902.5h1M405 902.5h1M428 902.5h1M434 902.5h1M438 902.5h1M346 903.5h1M356 903.5h1M379 903.5h1M422 903.5h1M425 903.5h1M442 903.5h1M331 904.5h1M339 904.5h1M354 904.5h1M358 904.5h1M366 904.5h1M371 904.5h1M399 904.5h1M413 904.5h1M417 904.5h1M429 904.5h1M434 904.5h1M436 904.5h1M356 905.5h1M374 905.5h1M386 905.5h1M396 905.5h1M429 905.5h1M333 906.5h1M343 906.5h1M357 906.5h1M366 906.5h1M372 906.5h1M391 906.5h1M409 906.5h1M361 907.5h1M372 907.5h1M382 907.5h1M385 907.5h1M403 907.5h1M407 907.5h1M332 908.5h1M338 908.5h1M361 908.5h1M363 908.5h1M366 908.5h1M391 908.5h1M397 908.5h1M440 908.5h1M341 909.5h1M344 909.5h1M347 909.5h1M352 909.5h1M371 909.5h1M394 909.5h1M401 909.5h1M419 909.5h1M453 909.5h1M333 910.5h1M360 910.5h1M366 910.5h1M379 910.5h1M407 910.5h1M409 910.5h1M412 910.5h1M422 910.5h1M427 910.5h1M441 910.5h2M340 911.5h1M359 911.5h1M393 911.5h1M429 911.5h1M431 911.5h1M340 912.5h1M346 912.5h2M350 912.5h1M362 912.5h1M368 912.5h1M383 912.5h1M395 912.5h1M400 912.5h1M402 912.5h1M424 912.5h1M354 913.5h1M364 913.5h1M376 913.5h1M378 913.5h2M386 913.5h1M393 913.5h1M403 913.5h1M408 913.5h1M429 913.5h1M436 913.5h1M454 913.5h1M339 914.5h1M344 914.5h1M352 914.5h1M354 914.5h1M357 914.5h1M368 914.5h1M384 914.5h1M388 914.5h1M396 914.5h1M361 915.5h1M371 915.5h1M391 915.5h1M398 915.5h1M401 915.5h1M413 915.5h1M417 915.5h2M425 915.5h1M427 915.5h1M434 915.5h1M441 915.5h1M444 915.5h1M331 916.5h2M338 916.5h1M352 916.5h1M367 916.5h1M376 916.5h1M380 916.5h1M394 916.5h1M408 916.5h1M411 916.5h1M415 916.5h1M441 916.5h1M359 917.5h1M382 917.5h1M384 917.5h1M402 917.5h1M408 917.5h1M434 917.5h1M447 917.5h1M332 918.5h1M339 918.5h1M352 918.5h1M377 918.5h1M405 918.5h1M414 918.5h1M422 918.5h2M436 918.5h1M445 918.5h1M335 919.5h1M337 919.5h1M366 919.5h1M369 919.5h1M382 919.5h1M386 919.5h1M395 919.5h1M407 919.5h1M345 920.5h1M356 920.5h1M358 920.5h1M370 920.5h1M374 920.5h1M380 920.5h1M391 920.5h1M409 920.5h1M411 920.5h1M435 920.5h1M437 920.5h1M449 920.5h1M453 920.5h1M460 920.5h1M347 921.5h1M364 921.5h1M373 921.5h1M379 921.5h1M386 921.5h1M398 921.5h2M402 921.5h1M416 921.5h1M418 921.5h1M424 921.5h1M437 921.5h1M446 921.5h1M454 921.5h1M335 922.5h1M349 922.5h1M356 922.5h1M368 922.5h1M376 922.5h1M413 922.5h1M440 922.5h1M460 922.5h1M343 923.5h1M351 923.5h1M365 923.5h1M374 923.5h1M396 923.5h1M400 923.5h1M403 923.5h1M409 923.5h1M412 923.5h1M416 923.5h2M439 923.5h1M451 923.5h1M341 924.5h1M344 924.5h1M357 924.5h1M359 924.5h1M368 924.5h1M375 924.5h1M393 924.5h1M407 924.5h1M428 924.5h1M339 925.5h1M342 925.5h1M349 925.5h1M366 925.5h1M384 925.5h1M395 925.5h1M403 925.5h1M412 925.5h1M420 925.5h1M422 925.5h1M424 925.5h1M450 925.5h1M452 925.5h1M456 925.5h1M373 926.5h1M380 926.5h1M388 926.5h1M390 926.5h1M397 926.5h1M426 926.5h1M428 926.5h1M438 926.5h1M440 926.5h2M446 926.5h1M459 926.5h1M333 927.5h1M341 927.5h1M350 927.5h1M357 927.5h1M359 927.5h1M370 927.5h2M373 927.5h1M375 927.5h1M415 927.5h2M419 927.5h1M339 928.5h1M343 928.5h1M451 928.5h1M340 929.5h1M346 929.5h1M358 929.5h1M376 929.5h1M386 929.5h1M455 929.5h1M344 930.5h1M354 930.5h1M360 930.5h1M392 930.5h1M453 930.5h1M363 931.5h1M367 931.5h1M456 931.5h1M338 932.5h2M341 932.5h1M344 932.5h1M354 932.5h1M448 932.5h1M450 932.5h1M452 932.5h1M354 933.5h1M363 933.5h1M335 934.5h1M344 934.5h1M331 935.5h1M332 936.5h1M334 936.5h2M340 936.5h1M342 936.5h1M455 936.5h1M338 937.5h1M450 937.5h1M455 938.5h1M456 939.5h1M331 941.5h1M452 941.5h1M456 941.5h1M458 942.5h1M455 944.5h1M458 944.5h1M460 947.5h1M450 948.5h1M459 948.5h1M457 949.5h1M459 951.5h1M460 953.5h1M460 954.5h1M458 956.5h1M460 957.5h1M458 960.5h1M460 960.5h1M460 963.5h1M459 964.5h1M456 965.5h1M459 966.5h1M457 967.5h1M457 969.5h1M455 970.5h1M457 971.5h1M455 972.5h1M457 974.5h2M415 975.5h1M454 976.5h1M452 978.5h1M456 979.5h1M458 979.5h1M453 980.5h1" stroke="#3a3a3a" stroke-width="1" fill="none"/>
<path d="M424 862.5h1M437 867.5h1M436 868.5h2M431 869.5h1M430 870.5h2M431 871.5h1M434 872.5h1M433 873.5h1M436 873.5h1M435 874.5h1M437 874.5h2M431 875.5h3M435 875.5h1M437 875.5h1M439 875.5h1M435 876.5h1M437 876.5h1M430 877.5h1M434 877.5h2M438 877.5h1M435 878.5h1M440 878.5h1M425 880.5h1M434 880.5h1M436 880.5h1M439 880.5h1M423 881.5h1M428 881.5h1M437 881.5h1M426 882.5h2M433 882.5h1M426 883.5h1M422 884.5h1M436 884.5h1M437 885.5h1M440 885.5h1M431 886.5h2M438 886.5h2M429 887.5h1M432 887.5h1M428 888.5h1M432 888.5h1M435 888.5h1M435 889.5h1M435 890.5h1M431 891.5h1M435 891.5h1M427 892.5h1M431 892.5h1M426 893.5h1M431 893.5h1M432 895.5h1M431 896.5h2M434 896.5h1M436 896.5h1M434 897.5h1M436 897.5h1M387 898.5h1M434 898.5h1M436 898.5h1M442 898.5h1M386 899.5h2M433 899.5h2M437 899.5h1M364 900.5h1M337 901.5h1M430 901.5h1M338 902.5h1M434 903.5h1M439 903.5h1M426 904.5h1M432 904.5h1M440 904.5h1M427 905.5h1M436 905.5h1M439 905.5h1M426 906.5h2M431 906.5h1M434 906.5h1M437 906.5h3M366 907.5h1M429 907.5h1M435 907.5h1M350 908.5h1M428 908.5h1M433 908.5h1M435 908.5h2M439 908.5h1M349 909.5h2M430 909.5h1M434 909.5h1M438 909.5h1M423 910.5h3M429 910.5h1M437 910.5h1M388 911.5h2M425 911.5h1M434 911.5h1M437 911.5h1M439 911.5h1M389 912.5h1M434 912.5h1M438 912.5h1M351 913.5h1M388 913.5h1M430 913.5h1M434 913.5h1M438 913.5h1M395 914.5h1M439 914.5h1M340 915.5h1M384 915.5h1M394 915.5h1M412 915.5h1M422 915.5h2M431 915.5h1M435 915.5h2M339 916.5h1M385 916.5h1M422 916.5h1M432 916.5h1M439 916.5h1M389 917.5h1M431 917.5h2M389 918.5h2M397 918.5h2M429 918.5h1M431 918.5h1M437 918.5h1M439 918.5h1M441 918.5h1M333 919.5h1M357 919.5h1M397 919.5h1M413 919.5h1M428 919.5h2M334 920.5h1M340 920.5h2M382 920.5h1M388 920.5h2M393 920.5h2M406 920.5h1M412 920.5h2M417 920.5h1M427 920.5h1M433 920.5h1M440 920.5h1M443 920.5h1M340 921.5h1M383 921.5h1M388 921.5h1M394 921.5h1M406 921.5h2M425 921.5h2M431 921.5h2M442 921.5h1M361 922.5h1M381 922.5h1M406 922.5h1M434 922.5h1M360 923.5h1M362 923.5h1M371 923.5h2M381 923.5h1M383 923.5h1M402 923.5h1M437 923.5h1M351 924.5h1M355 924.5h1M371 924.5h2M391 924.5h2M396 924.5h1M401 924.5h1M427 924.5h1M434 924.5h1M437 924.5h1M350 925.5h1M352 925.5h1M354 925.5h2M365 925.5h1M391 925.5h1M399 925.5h2M405 925.5h1M409 925.5h3M423 925.5h1M426 925.5h1M434 925.5h1M451 925.5h1M340 926.5h1M353 926.5h1M358 926.5h1M376 926.5h2M386 926.5h1M400 926.5h1M407 926.5h1M409 926.5h1M419 926.5h1M335 927.5h1M364 927.5h2M377 927.5h1M381 927.5h1M384 927.5h1M386 927.5h2M392 927.5h1M396 927.5h1M403 927.5h1M405 927.5h1M410 927.5h2M413 927.5h1M428 927.5h1M436 927.5h1M335 928.5h2M348 928.5h1M361 928.5h1M377 928.5h1M380 928.5h2M383 928.5h1M391 928.5h2M395 928.5h1M398 928.5h1M406 928.5h2M410 928.5h1M427 928.5h1M440 928.5h1M447 928.5h1M342 929.5h1M348 929.5h2M353 929.5h1M361 929.5h1M365 929.5h1M370 929.5h1M373 929.5h2M378 929.5h1M384 929.5h1M393 929.5h1M396 929.5h1M404 929.5h1M408 929.5h1M410 929.5h1M418 929.5h1M425 929.5h1M433 929.5h1M447 929.5h1M342 930.5h1M345 930.5h1M351 930.5h2M357 930.5h1M364 930.5h2M369 930.5h2M372 930.5h1M378 930.5h2M381 930.5h1M432 930.5h1M445 930.5h1M448 930.5h2M341 931.5h1M352 931.5h1M356 931.5h2M374 931.5h1M376 931.5h1M386 931.5h1M394 931.5h1M446 931.5h1M345 932.5h1M350 932.5h1M358 932.5h1M365 932.5h1M369 932.5h1M371 932.5h1M385 932.5h1M346 933.5h2M349 933.5h1M351 933.5h1M360 933.5h1M438 933.5h1M440 933.5h1M443 933.5h1M447 933.5h1M356 934.5h1M440 934.5h1M442 934.5h1M445 934.5h1M449 934.5h1M451 934.5h1M353 935.5h1M443 935.5h1M450 935.5h1M452 935.5h1M347 936.5h1M446 936.5h1M448 936.5h1M453 936.5h2M342 937.5h1M344 937.5h1M346 937.5h1M348 937.5h1M446 937.5h1M335 938.5h1M342 938.5h1M344 938.5h1M448 938.5h1M335 939.5h1M337 939.5h1M340 939.5h1M451 939.5h1M332 940.5h1M335 940.5h1M338 940.5h1M333 941.5h1M450 941.5h1M333 942.5h1M451 943.5h1M453 943.5h1M331 944.5h1M453 945.5h1M457 945.5h1M450 946.5h1M452 946.5h1M454 946.5h1M458 946.5h1M456 947.5h2M452 948.5h1M454 948.5h2M454 950.5h1M456 950.5h1M457 951.5h1M458 952.5h1M456 953.5h1M457 954.5h1M457 956.5h1M455 958.5h1M459 958.5h1M457 959.5h1M460 959.5h1M452 960.5h5M453 962.5h1M455 962.5h2M457 963.5h1M455 964.5h1M454 967.5h1M402 968.5h1M454 968.5h2M405 969.5h1M454 970.5h1M400 971.5h1M402 971.5h1M404 971.5h1M406 971.5h1M459 971.5h2M459 972.5h1M390 973.5h1M393 973.5h1M395 973.5h1M410 973.5h1M413 973.5h1M415 973.5h1M455 973.5h1M392 974.5h1M453 974.5h2M406 975.5h1M408 975.5h1M412 975.5h3M455 976.5h2M405 977.5h1M407 977.5h1M413 977.5h1M417 977.5h1M456 977.5h2M406 978.5h1M415 978.5h2M419 978.5h1M396 979.5h2M404 979.5h1M408 979.5h1M410 979.5h1M414 979.5h1M416 979.5h1M453 979.5h1M457 979.5h1M331 980.5h1M394 980.5h2M399 980.5h2M402 980.5h1M409 980.5h1M420 980.5h1M449 980.5h1" stroke="#111" stroke-width="1" fill="none"/>
</g>
<rect x="330.8" y="850.8" width="130" height="130" fill="none" stroke="#222" stroke-width="1.15"/>
<line x1="412.5" y1="850.8" x2="412.5" y2="980.8" stroke="#222" stroke-width="0.85"/>
<line x1="330.8" y1="925.5" x2="460.8" y2="925.5" stroke="#222" stroke-width="0.85"/>
<line x1="332.3" y1="865.6" x2="409.1" y2="865.6" stroke="#333" stroke-width="0.65"/>
<line x1="371.6" y1="853" x2="371.6" y2="877.1" stroke="#222" stroke-width="0.7"/>
<text x="369.2" y="863.1" font-size="10" text-anchor="end" stroke="#000" stroke-width="0.28">0.09%</text>
<text x="407.6" y="863.1" font-size="10" text-anchor="end" font-weight="bold" stroke="#000" stroke-width="0.35">0.14%</text>
<text x="369.2" y="874.7" font-size="10" text-anchor="end" stroke="#000" stroke-width="0.28">90.64%</text>
<text x="407.4" y="874.7" font-size="10" text-anchor="end" stroke="#000" stroke-width="0.28">9.14%</text>
<path d="M340.58 980.8v1.7M330.8 971.02h-1.7M346.31 980.8v1.7M330.8 965.29h-1.7M350.37 980.8v1.7M330.8 961.23h-1.7M353.52 980.8v1.7M330.8 958.08h-1.7M356.09 980.8v1.7M330.8 955.51h-1.7M358.27 980.8v1.7M330.8 953.33h-1.7M360.15 980.8v1.7M330.8 951.45h-1.7M361.81 980.8v1.7M330.8 949.79h-1.7M373.08 980.8v1.7M330.8 938.52h-1.7M378.81 980.8v1.7M330.8 932.79h-1.7M382.87 980.8v1.7M330.8 928.73h-1.7M386.02 980.8v1.7M330.8 925.58h-1.7M388.59 980.8v1.7M330.8 923.01h-1.7M390.77 980.8v1.7M330.8 920.83h-1.7M392.65 980.8v1.7M330.8 918.95h-1.7M394.31 980.8v1.7M330.8 917.29h-1.7M405.58 980.8v1.7M330.8 906.02h-1.7M411.31 980.8v1.7M330.8 900.29h-1.7M415.37 980.8v1.7M330.8 896.23h-1.7M418.52 980.8v1.7M330.8 893.08h-1.7M421.09 980.8v1.7M330.8 890.51h-1.7M423.27 980.8v1.7M330.8 888.33h-1.7M425.15 980.8v1.7M330.8 886.45h-1.7M426.81 980.8v1.7M330.8 884.79h-1.7M438.08 980.8v1.7M330.8 873.52h-1.7M443.81 980.8v1.7M330.8 867.79h-1.7M447.87 980.8v1.7M330.8 863.73h-1.7M451.02 980.8v1.7M330.8 860.58h-1.7M453.59 980.8v1.7M330.8 858.01h-1.7M455.77 980.8v1.7M330.8 855.83h-1.7M457.65 980.8v1.7M330.8 853.95h-1.7M459.31 980.8v1.7M330.8 852.29h-1.7" stroke="#111" stroke-width="0.75" fill="none"/>
<line x1="330.8" y1="980.8" x2="330.8" y2="983.2" stroke="#222" stroke-width="0.8"/>
<line x1="328.4" y1="980.8" x2="330.8" y2="980.8" stroke="#222" stroke-width="0.8"/>
<text x="333.1" y="991.9" font-size="6.1" text-anchor="end" stroke="#000" stroke-width="0.38">10</text>
<text x="333.4" y="988.4" font-size="5" stroke="#000" stroke-width="0.38">0</text>
<text transform="translate(325.9 979.8) rotate(-90) scale(0.74 1)" font-size="6.4" text-anchor="end" stroke="#000" stroke-width="0.38">10</text>
<text transform="translate(321.9 978.1) rotate(-90) scale(0.8 1)" font-size="5.2" stroke="#000" stroke-width="0.38">0</text>
<line x1="363.3" y1="980.8" x2="363.3" y2="983.2" stroke="#222" stroke-width="0.8"/>
<line x1="328.4" y1="948.3" x2="330.8" y2="948.3" stroke="#222" stroke-width="0.8"/>
<text x="365.6" y="991.9" font-size="6.1" text-anchor="end" stroke="#000" stroke-width="0.38">10</text>
<text x="365.9" y="988.4" font-size="5" stroke="#000" stroke-width="0.38">1</text>
<text transform="translate(325.9 947.3) rotate(-90) scale(0.74 1)" font-size="6.4" text-anchor="end" stroke="#000" stroke-width="0.38">10</text>
<text transform="translate(321.9 945.6) rotate(-90) scale(0.8 1)" font-size="5.2" stroke="#000" stroke-width="0.38">1</text>
<line x1="395.8" y1="980.8" x2="395.8" y2="983.2" stroke="#222" stroke-width="0.8"/>
<line x1="328.4" y1="915.8" x2="330.8" y2="915.8" stroke="#222" stroke-width="0.8"/>
<text x="398.1" y="991.9" font-size="6.1" text-anchor="end" stroke="#000" stroke-width="0.38">10</text>
<text x="398.4" y="988.4" font-size="5" stroke="#000" stroke-width="0.38">2</text>
<text transform="translate(325.9 914.8) rotate(-90) scale(0.74 1)" font-size="6.4" text-anchor="end" stroke="#000" stroke-width="0.38">10</text>
<text transform="translate(321.9 913.1) rotate(-90) scale(0.8 1)" font-size="5.2" stroke="#000" stroke-width="0.38">2</text>
<line x1="428.3" y1="980.8" x2="428.3" y2="983.2" stroke="#222" stroke-width="0.8"/>
<line x1="328.4" y1="883.3" x2="330.8" y2="883.3" stroke="#222" stroke-width="0.8"/>
<text x="430.6" y="991.9" font-size="6.1" text-anchor="end" stroke="#000" stroke-width="0.38">10</text>
<text x="430.9" y="988.4" font-size="5" stroke="#000" stroke-width="0.38">3</text>
<text transform="translate(325.9 882.3) rotate(-90) scale(0.74 1)" font-size="6.4" text-anchor="end" stroke="#000" stroke-width="0.38">10</text>
<text transform="translate(321.9 880.6) rotate(-90) scale(0.8 1)" font-size="5.2" stroke="#000" stroke-width="0.38">3</text>
<line x1="460.8" y1="980.8" x2="460.8" y2="983.2" stroke="#222" stroke-width="0.8"/>
<line x1="328.4" y1="850.8" x2="330.8" y2="850.8" stroke="#222" stroke-width="0.8"/>
<text x="463.1" y="991.9" font-size="6.1" text-anchor="end" stroke="#000" stroke-width="0.38">10</text>
<text x="463.4" y="988.4" font-size="5" stroke="#000" stroke-width="0.38">4</text>
<text transform="translate(325.9 849.8) rotate(-90) scale(0.74 1)" font-size="6.4" text-anchor="end" stroke="#000" stroke-width="0.38">10</text>
<text transform="translate(321.9 848.1) rotate(-90) scale(0.8 1)" font-size="5.2" stroke="#000" stroke-width="0.38">4</text>
<text x="395.2" y="998.4" font-size="5.9" text-anchor="middle" stroke="#000" stroke-width="0.38">CyChrome-CD4</text>
<text transform="translate(317.4 917.8) rotate(-90)" font-size="6.1" text-anchor="middle" stroke="#000" stroke-width="0.38">FITC-IFNgamma</text>
</svg>
</body></html>
